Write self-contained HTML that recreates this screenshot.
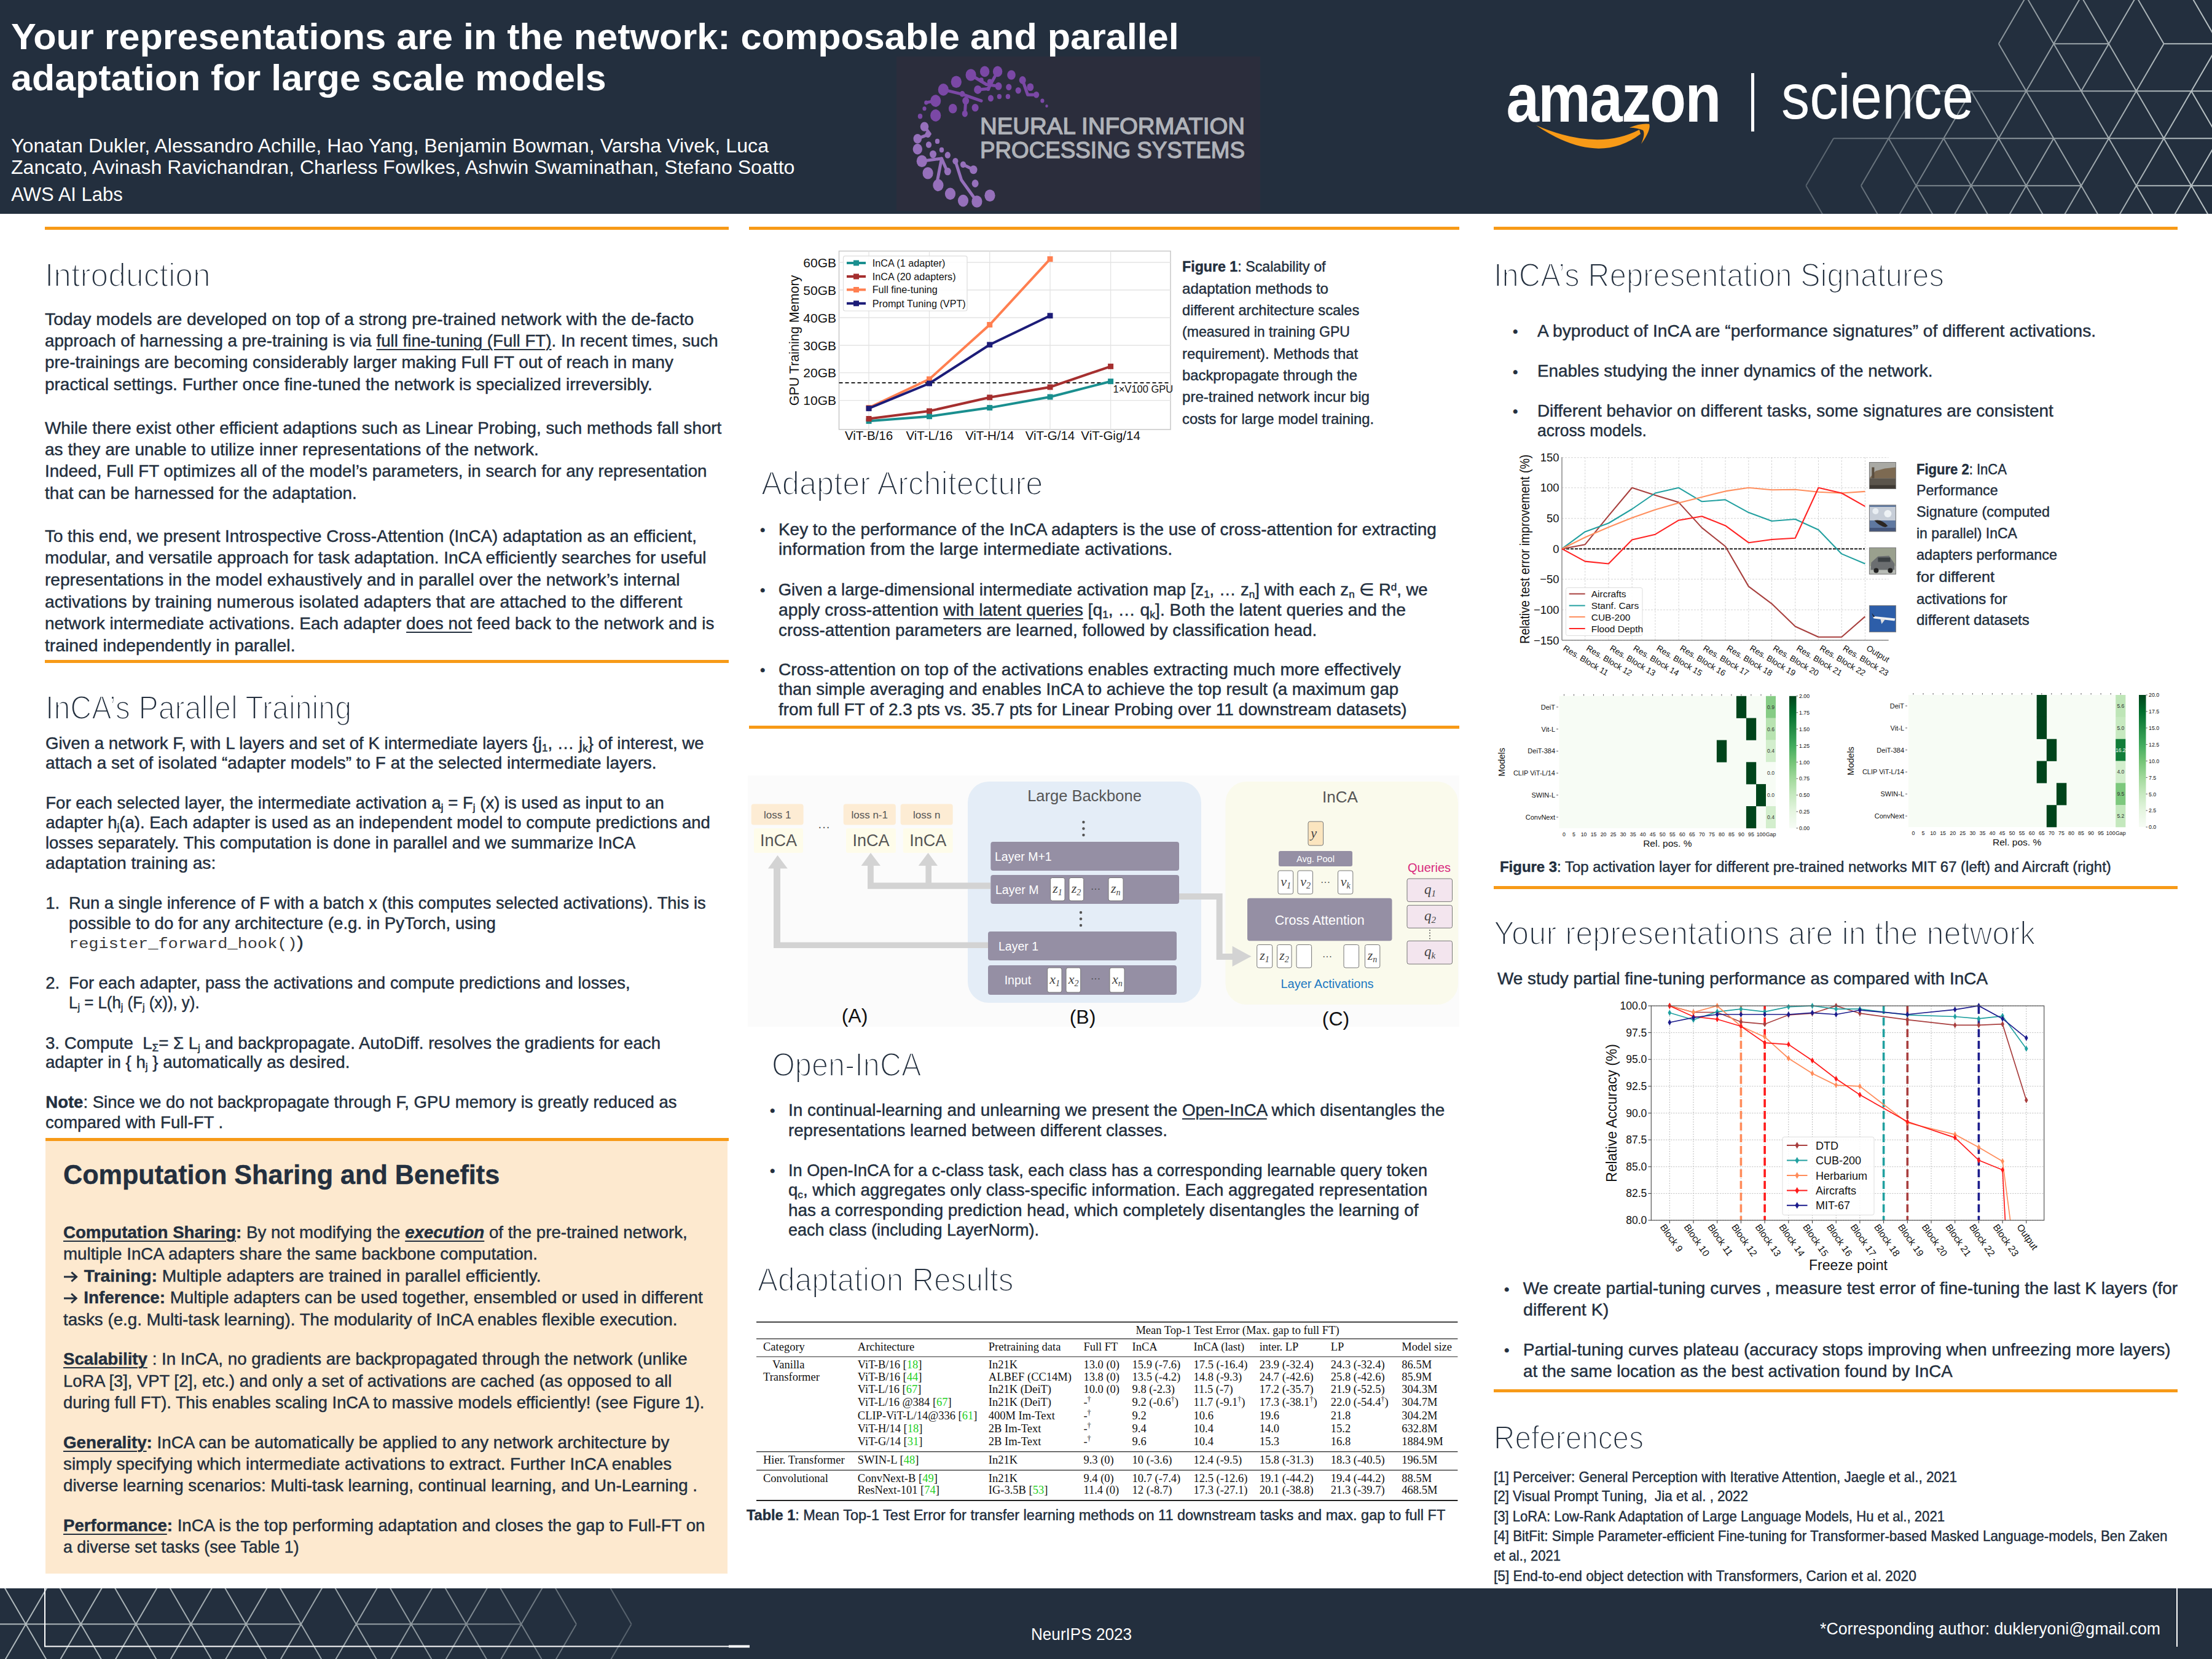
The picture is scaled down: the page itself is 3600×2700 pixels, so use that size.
<!DOCTYPE html><html><head><meta charset="utf-8"><title>InCA poster</title><style>
html,body{margin:0;padding:0;background:#fff;}
body{width:3600px;height:2700px;position:relative;overflow:hidden;font-family:"Liberation Sans",sans-serif;color:#232f3e;}
.t{position:absolute;white-space:nowrap;line-height:1;transform-origin:0 0;-webkit-text-stroke:0.45px #232f3e;}
.t sub{font-size:0.62em;vertical-align:-0.25em;line-height:0;}
.t sup{font-size:0.62em;vertical-align:0.45em;line-height:0;}
.t u{text-decoration-thickness:2px;text-underline-offset:4px;}
.r{position:absolute;}
svg.page{position:absolute;left:0;top:0;}
</style></head><body>
<svg class="page" width="3600" height="2700" viewBox="0 0 3600 2700">
<rect x="0" y="0" width="3600" height="348" fill="#232f3e"/>
<rect x="0" y="2585" width="3600" height="115" fill="#232f3e"/>
<rect x="73" y="369" width="1113" height="5" fill="#f79a17"/>
<rect x="73" y="1074" width="1113" height="5" fill="#f79a17"/>
<rect x="74" y="1852" width="1112" height="5" fill="#f79a17"/>
<rect x="1219" y="369" width="1156" height="5" fill="#f79a17"/>
<rect x="1219" y="1181" width="1156" height="5" fill="#f79a17"/>
<rect x="2431" y="369" width="1113" height="5" fill="#f79a17"/>
<rect x="2431" y="1442" width="1113" height="5" fill="#f79a17"/>
<rect x="2431" y="2261" width="1113" height="5" fill="#f79a17"/>
<rect x="74" y="1857" width="1110" height="704" fill="#fde9cf"/>
<defs><linearGradient id="hgrad" gradientUnits="userSpaceOnUse" x1="2930" y1="0" x2="3600" y2="0"><stop offset="0" stop-color="#c9d2d3" stop-opacity="0.3"/><stop offset="0.45" stop-color="#c9d2d3" stop-opacity="0.6"/><stop offset="1" stop-color="#c9d2d3" stop-opacity="0.9"/></linearGradient>
<clipPath id="hclip"><rect x="0" y="0" width="3600" height="348"/></clipPath>
<clipPath id="fclip"><rect x="0" y="2585" width="3600" height="115"/></clipPath></defs>
<g clip-path="url(#hclip)"><path d="M3342.4 71.2L3432.0 71.2 M3521.6 71.2L3880.0 71.2 M3118.4 148.2L3745.6 148.2 M2984.0 225.3L3700.8 225.3 M3118.4 302.3L3387.2 302.3 M3476.8 302.3L3745.6 302.3 M3297.6 -5.8L3252.8 71.2 M3297.6 -5.8L3342.4 71.2 M3387.2 -5.8L3342.4 71.2 M3387.2 -5.8L3432.0 71.2 M3476.8 -5.8L3432.0 71.2 M3476.8 -5.8L3521.6 71.2 M3566.4 -5.8L3611.2 71.2 M3656.0 -5.8L3611.2 71.2 M3656.0 -5.8L3700.8 71.2 M3252.8 71.2L3297.6 148.2 M3342.4 71.2L3297.6 148.2 M3342.4 71.2L3387.2 148.2 M3432.0 71.2L3387.2 148.2 M3432.0 71.2L3476.8 148.2 M3521.6 71.2L3476.8 148.2 M3611.2 71.2L3566.4 148.2 M3611.2 71.2L3656.0 148.2 M3118.4 148.2L3073.6 225.3 M3208.0 148.2L3163.2 225.3 M3208.0 148.2L3252.8 225.3 M3297.6 148.2L3252.8 225.3 M3297.6 148.2L3342.4 225.3 M3387.2 148.2L3432.0 225.3 M3476.8 148.2L3432.0 225.3 M3476.8 148.2L3521.6 225.3 M3566.4 148.2L3521.6 225.3 M3566.4 148.2L3611.2 225.3 M3656.0 148.2L3611.2 225.3 M3656.0 148.2L3700.8 225.3 M2984.0 225.3L2939.2 302.3 M3073.6 225.3L3028.8 302.3 M3073.6 225.3L3118.4 302.3 M3163.2 225.3L3118.4 302.3 M3163.2 225.3L3208.0 302.3 M3252.8 225.3L3208.0 302.3 M3252.8 225.3L3297.6 302.3 M3342.4 225.3L3297.6 302.3 M3342.4 225.3L3387.2 302.3 M3432.0 225.3L3387.2 302.3 M3432.0 225.3L3476.8 302.3 M3521.6 225.3L3476.8 302.3 M3521.6 225.3L3566.4 302.3 M3611.2 225.3L3566.4 302.3 M3611.2 225.3L3656.0 302.3 M2939.2 302.3L2984.0 379.4 M3028.8 302.3L3073.6 379.4 M3118.4 302.3L3073.6 379.4 M3118.4 302.3L3163.2 379.4 M3208.0 302.3L3163.2 379.4 M3208.0 302.3L3252.8 379.4 M3297.6 302.3L3252.8 379.4 M3297.6 302.3L3342.4 379.4 M3387.2 302.3L3342.4 379.4 M3387.2 302.3L3432.0 379.4 M3476.8 302.3L3432.0 379.4 M3476.8 302.3L3521.6 379.4 M3566.4 302.3L3521.6 379.4 M3566.4 302.3L3611.2 379.4 M3656.0 302.3L3611.2 379.4 M3656.0 302.3L3700.8 379.4" stroke="url(#hgrad)" stroke-width="2" fill="none"/></g>
<defs><linearGradient id="fgrad" gradientUnits="userSpaceOnUse" x1="0" y1="0" x2="1030" y2="0"><stop offset="0" stop-color="#c9d2d3" stop-opacity="0.85"/><stop offset="0.6" stop-color="#c9d2d3" stop-opacity="0.7"/><stop offset="1" stop-color="#c9d2d3" stop-opacity="0.3"/></linearGradient></defs>
<g clip-path="url(#fclip)"><path d="M-47.6 2643.3L490.0 2643.3 M579.6 2643.3L848.4 2643.3 M-92.4 2566.2L-47.6 2643.3 M-47.6 2643.3L-92.4 2720.4 M-2.8 2566.2L-47.6 2643.3 M-47.6 2643.3L-2.8 2720.4 M-2.8 2566.2L42.0 2643.3 M42.0 2643.3L-2.8 2720.4 M86.8 2566.2L42.0 2643.3 M42.0 2643.3L86.8 2720.4 M86.8 2566.2L131.6 2643.3 M131.6 2643.3L86.8 2720.4 M176.4 2566.2L131.6 2643.3 M131.6 2643.3L176.4 2720.4 M176.4 2566.2L221.2 2643.3 M221.2 2643.3L176.4 2720.4 M266.0 2566.2L221.2 2643.3 M221.2 2643.3L266.0 2720.4 M266.0 2566.2L310.8 2643.3 M310.8 2643.3L266.0 2720.4 M355.6 2566.2L310.8 2643.3 M310.8 2643.3L355.6 2720.4 M355.6 2566.2L400.4 2643.3 M400.4 2643.3L355.6 2720.4 M445.2 2566.2L400.4 2643.3 M400.4 2643.3L445.2 2720.4 M445.2 2566.2L490.0 2643.3 M490.0 2643.3L445.2 2720.4 M534.8 2566.2L490.0 2643.3 M490.0 2643.3L534.8 2720.4 M534.8 2566.2L579.6 2643.3 M579.6 2643.3L534.8 2720.4 M624.4 2566.2L579.6 2643.3 M579.6 2643.3L624.4 2720.4 M624.4 2566.2L669.2 2643.3 M669.2 2643.3L624.4 2720.4 M714.0 2566.2L669.2 2643.3 M669.2 2643.3L714.0 2720.4 M714.0 2566.2L758.8 2643.3 M758.8 2643.3L714.0 2720.4 M803.6 2566.2L758.8 2643.3 M758.8 2643.3L803.6 2720.4 M803.6 2566.2L848.4 2643.3 M848.4 2643.3L803.6 2720.4 M893.2 2566.2L848.4 2643.3 M848.4 2643.3L893.2 2720.4 M893.2 2566.2L938.0 2643.3 M938.0 2643.3L893.2 2720.4 M982.8 2566.2L1027.6 2643.3 M1027.6 2643.3L982.8 2720.4" stroke="url(#fgrad)" stroke-width="2" fill="none"/></g>
<polyline points="73,2585 73,2679.5 1186,2679.5" fill="none" stroke="#ffffff" stroke-width="2"/>
<rect x="1186" y="2677.5" width="34" height="4" fill="#ffffff"/>
<rect x="3542" y="2585" width="2" height="95" fill="#ffffff"/>
<text x="2451.5" y="198" font-size="112" font-weight="700" fill="#fff" textLength="348" lengthAdjust="spacingAndGlyphs" style="font-family:'Liberation Sans',sans-serif;letter-spacing:-2px">amazon</text>
<path d="M2500 204 Q2599 271.5 2670 218 L2668 211 Q2600 246.5 2500 204 Z" fill="#f79a17"/>
<path d="M2651.7 207.8 Q2670 200 2684.3 201.7 Q2687 212 2671 234.3 Q2678 218 2674 212 Q2665 208 2651.7 207.8 Z" fill="#f79a17"/>
<rect x="2850" y="119" width="5" height="95" fill="#fff"/>
<text x="2899" y="192.6" font-size="104" fill="#fff" textLength="313" lengthAdjust="spacingAndGlyphs" style="font-family:'Liberation Sans',sans-serif;">science</text>
<rect x="1459" y="92" width="592" height="251" fill="#2b2d3c"/>
<text x="1595" y="218" font-size="37" fill="#b0b3b9" stroke="#b0b3b9" stroke-width="1.3" textLength="431" lengthAdjust="spacingAndGlyphs" style="font-family:'Liberation Sans',sans-serif;">NEURAL INFORMATION</text>
<text x="1595" y="257.4" font-size="37" fill="#b0b3b9" stroke="#b0b3b9" stroke-width="1.3" textLength="431" lengthAdjust="spacingAndGlyphs" style="font-family:'Liberation Sans',sans-serif;">PROCESSING SYSTEMS</text>
<polyline points="1535.3,145.9 1566.1,153.4 1597.0,164.1" fill="none" stroke="#7b48a6" stroke-width="5" stroke-linecap="round" stroke-linejoin="round"/>
<polyline points="1580.1,122.0 1605.4,137.5 1625.0,140.3" fill="none" stroke="#7b48a6" stroke-width="5" stroke-linecap="round" stroke-linejoin="round"/>
<polyline points="1623.6,116.4 1614.3,133.3 1608.2,145.0" fill="none" stroke="#7b48a6" stroke-width="5" stroke-linecap="round" stroke-linejoin="round"/>
<polyline points="1664.2,130.4 1672.6,154.3 1686.6,154.3" fill="none" stroke="#7b48a6" stroke-width="5" stroke-linecap="round" stroke-linejoin="round"/>
<polyline points="1571.7,164.1 1570.3,185.1" fill="none" stroke="#7b48a6" stroke-width="5" stroke-linecap="round" stroke-linejoin="round"/>
<polyline points="1504.5,206.1 1513.4,217.9 1493.3,225.7" fill="none" stroke="#9670bb" stroke-width="5" stroke-linecap="round" stroke-linejoin="round"/>
<polyline points="1500.3,262.2 1532.5,258.0 1542.3,280.4" fill="none" stroke="#9670bb" stroke-width="5" stroke-linecap="round" stroke-linejoin="round"/>
<polyline points="1532.5,258.0 1524.1,301.4" fill="none" stroke="#9670bb" stroke-width="5" stroke-linecap="round" stroke-linejoin="round"/>
<polyline points="1554.9,262.2 1564.7,293.0 1589.9,328.0" fill="none" stroke="#9670bb" stroke-width="5" stroke-linecap="round" stroke-linejoin="round"/>
<polyline points="1567.5,267.8 1584.3,276.2" fill="none" stroke="#9670bb" stroke-width="5" stroke-linecap="round" stroke-linejoin="round"/>
<polyline points="1522.7,164.1 1507.3,166.9" fill="none" stroke="#7b48a6" stroke-width="5" stroke-linecap="round" stroke-linejoin="round"/>
<polyline points="1591.3,145.9 1608.2,144.5" fill="none" stroke="#7b48a6" stroke-width="5" stroke-linecap="round" stroke-linejoin="round"/>
<ellipse cx="1602.6" cy="116.4" rx="7.7" ry="8.8" fill="#7b48a6"/>
<ellipse cx="1623.6" cy="116.4" rx="7.7" ry="8.8" fill="#7b48a6"/>
<ellipse cx="1646.0" cy="122.0" rx="6.8" ry="7.7" fill="#7b48a6"/>
<ellipse cx="1664.2" cy="130.4" rx="5.5" ry="6.3" fill="#7b48a6"/>
<ellipse cx="1676.8" cy="141.7" rx="5.5" ry="6.3" fill="#7b48a6"/>
<ellipse cx="1686.6" cy="154.3" rx="4.6" ry="5.3" fill="#7b48a6"/>
<ellipse cx="1696.4" cy="164.1" rx="3.1" ry="3.5" fill="#7b48a6"/>
<ellipse cx="1703.5" cy="172.5" rx="2.2" ry="2.5" fill="#7b48a6"/>
<ellipse cx="1580.1" cy="122.0" rx="8.6" ry="9.8" fill="#7b48a6"/>
<ellipse cx="1556.3" cy="133.3" rx="8.6" ry="9.8" fill="#7b48a6"/>
<ellipse cx="1535.3" cy="145.9" rx="8.6" ry="9.8" fill="#7b48a6"/>
<ellipse cx="1522.7" cy="164.1" rx="8.6" ry="9.8" fill="#7b48a6"/>
<ellipse cx="1522.7" cy="187.9" rx="8.6" ry="9.8" fill="#7b48a6"/>
<ellipse cx="1504.5" cy="206.1" rx="6.8" ry="7.7" fill="#9670bb"/>
<ellipse cx="1493.3" cy="225.7" rx="6.8" ry="7.7" fill="#9670bb"/>
<ellipse cx="1493.3" cy="242.6" rx="7.7" ry="8.8" fill="#9670bb"/>
<ellipse cx="1500.3" cy="262.2" rx="8.6" ry="9.8" fill="#9670bb"/>
<ellipse cx="1510.1" cy="281.8" rx="8.6" ry="9.8" fill="#9670bb"/>
<ellipse cx="1526.9" cy="301.4" rx="8.6" ry="9.8" fill="#9670bb"/>
<ellipse cx="1546.5" cy="315.4" rx="8.6" ry="9.8" fill="#9670bb"/>
<ellipse cx="1567.5" cy="326.6" rx="8.6" ry="9.8" fill="#9670bb"/>
<ellipse cx="1589.9" cy="328.0" rx="8.6" ry="9.8" fill="#9670bb"/>
<ellipse cx="1611.0" cy="318.2" rx="8.6" ry="9.8" fill="#9670bb"/>
<ellipse cx="1591.3" cy="145.9" rx="6.2" ry="7.0" fill="#7b48a6"/>
<ellipse cx="1625.0" cy="140.3" rx="5.5" ry="6.3" fill="#7b48a6"/>
<ellipse cx="1641.8" cy="141.7" rx="4.6" ry="5.3" fill="#7b48a6"/>
<ellipse cx="1657.2" cy="147.3" rx="4.6" ry="5.3" fill="#7b48a6"/>
<ellipse cx="1612.4" cy="159.9" rx="4.6" ry="5.3" fill="#7b48a6"/>
<ellipse cx="1626.4" cy="157.1" rx="3.7" ry="4.2" fill="#7b48a6"/>
<ellipse cx="1640.4" cy="157.1" rx="3.7" ry="4.2" fill="#7b48a6"/>
<ellipse cx="1571.7" cy="164.1" rx="5.5" ry="6.3" fill="#7b48a6"/>
<ellipse cx="1587.1" cy="175.3" rx="5.5" ry="6.3" fill="#7b48a6"/>
<ellipse cx="1550.7" cy="176.7" rx="6.8" ry="7.7" fill="#7b48a6"/>
<ellipse cx="1570.3" cy="185.1" rx="4.6" ry="5.3" fill="#7b48a6"/>
<ellipse cx="1510.1" cy="218.7" rx="4.6" ry="5.3" fill="#9670bb"/>
<ellipse cx="1511.5" cy="235.5" rx="4.6" ry="5.3" fill="#9670bb"/>
<ellipse cx="1525.5" cy="229.9" rx="3.7" ry="4.2" fill="#9670bb"/>
<ellipse cx="1518.5" cy="251.0" rx="5.5" ry="6.3" fill="#9670bb"/>
<ellipse cx="1542.3" cy="252.4" rx="4.6" ry="5.3" fill="#9670bb"/>
<ellipse cx="1532.5" cy="244.0" rx="3.7" ry="4.2" fill="#9670bb"/>
<ellipse cx="1542.3" cy="279.0" rx="5.5" ry="6.3" fill="#9670bb"/>
<ellipse cx="1567.5" cy="267.8" rx="4.6" ry="5.3" fill="#9670bb"/>
<ellipse cx="1584.3" cy="276.2" rx="6.2" ry="7.0" fill="#9670bb"/>
<ellipse cx="1587.1" cy="298.6" rx="5.5" ry="6.3" fill="#9670bb"/>
<ellipse cx="1554.9" cy="262.2" rx="4.6" ry="5.3" fill="#9670bb"/>
<ellipse cx="1507.3" cy="166.9" rx="3.1" ry="3.5" fill="#7b48a6"/>
<ellipse cx="1504.5" cy="176.7" rx="3.1" ry="3.5" fill="#7b48a6"/>
<ellipse cx="1497.5" cy="189.3" rx="3.7" ry="4.2" fill="#7b48a6"/>
<ellipse cx="1611.0" cy="133.3" rx="4.3" ry="4.9" fill="#7b48a6"/>
<ellipse cx="1597.0" cy="130.4" rx="3.7" ry="4.2" fill="#7b48a6"/>
<ellipse cx="1566.1" cy="152.9" rx="4.3" ry="4.9" fill="#7b48a6"/>
<ellipse cx="1608.2" cy="144.5" rx="3.1" ry="3.5" fill="#7b48a6"/>
<rect x="1365.5" y="408.6" width="539.5" height="290.4" fill="#fff" stroke="#c8c8c8" stroke-width="1.5"/>
<line x1="1414.0" y1="408.6" x2="1414.0" y2="699" stroke="#e3e3e3" stroke-width="1.3"/>
<line x1="1512.5" y1="408.6" x2="1512.5" y2="699" stroke="#e3e3e3" stroke-width="1.3"/>
<line x1="1610.7" y1="408.6" x2="1610.7" y2="699" stroke="#e3e3e3" stroke-width="1.3"/>
<line x1="1709.0" y1="408.6" x2="1709.0" y2="699" stroke="#e3e3e3" stroke-width="1.3"/>
<line x1="1807.6" y1="408.6" x2="1807.6" y2="699" stroke="#e3e3e3" stroke-width="1.3"/>
<line x1="1365.5" y1="427.0" x2="1905" y2="427.0" stroke="#e3e3e3" stroke-width="1.3"/>
<text x="1361.0" y="434.5" font-size="21.0" fill="#111" text-anchor="end" style="font-family:'Liberation Sans',sans-serif;">60GB</text>
<line x1="1365.5" y1="472.0" x2="1905" y2="472.0" stroke="#e3e3e3" stroke-width="1.3"/>
<text x="1361.0" y="479.5" font-size="21.0" fill="#111" text-anchor="end" style="font-family:'Liberation Sans',sans-serif;">50GB</text>
<line x1="1365.5" y1="517.0" x2="1905" y2="517.0" stroke="#e3e3e3" stroke-width="1.3"/>
<text x="1361.0" y="524.5" font-size="21.0" fill="#111" text-anchor="end" style="font-family:'Liberation Sans',sans-serif;">40GB</text>
<line x1="1365.5" y1="562.0" x2="1905" y2="562.0" stroke="#e3e3e3" stroke-width="1.3"/>
<text x="1361.0" y="569.5" font-size="21.0" fill="#111" text-anchor="end" style="font-family:'Liberation Sans',sans-serif;">30GB</text>
<line x1="1365.5" y1="606.6" x2="1905" y2="606.6" stroke="#e3e3e3" stroke-width="1.3"/>
<text x="1361.0" y="614.1" font-size="21.0" fill="#111" text-anchor="end" style="font-family:'Liberation Sans',sans-serif;">20GB</text>
<line x1="1365.5" y1="651.6" x2="1905" y2="651.6" stroke="#e3e3e3" stroke-width="1.3"/>
<text x="1361.0" y="659.1" font-size="21.0" fill="#111" text-anchor="end" style="font-family:'Liberation Sans',sans-serif;">10GB</text>
<text x="1414.0" y="716.0" font-size="20.5" fill="#111" text-anchor="middle" style="font-family:'Liberation Sans',sans-serif;">ViT-B/16</text>
<text x="1512.5" y="716.0" font-size="20.5" fill="#111" text-anchor="middle" style="font-family:'Liberation Sans',sans-serif;">ViT-L/16</text>
<text x="1610.7" y="716.0" font-size="20.5" fill="#111" text-anchor="middle" style="font-family:'Liberation Sans',sans-serif;">ViT-H/14</text>
<text x="1709.0" y="716.0" font-size="20.5" fill="#111" text-anchor="middle" style="font-family:'Liberation Sans',sans-serif;">ViT-G/14</text>
<text x="1807.6" y="716.0" font-size="20.5" fill="#111" text-anchor="middle" style="font-family:'Liberation Sans',sans-serif;">ViT-Gig/14</text>
<text transform="translate(1300,554) rotate(-90)" x="0" y="0" font-size="21.5" fill="#111" text-anchor="middle" style="font-family:'Liberation Sans',sans-serif;">GPU Training Memory</text>
<line x1="1365.5" y1="623" x2="1905" y2="623" stroke="#222" stroke-width="2" stroke-dasharray="6,4"/>
<text x="1811.5" y="638.6" font-size="16.5" fill="#111" text-anchor="start" style="font-family:'Liberation Sans',sans-serif;">1×V100 GPU</text>
<polyline points="1414.0,685.3 1512.5,677.7 1610.7,663.6 1709.0,646.0 1807.6,620.7" fill="none" stroke="#1a8f8f" stroke-width="4"/>
<rect x="1409.5" y="680.8" width="9" height="9" fill="#1a8f8f"/>
<rect x="1508.0" y="673.2" width="9" height="9" fill="#1a8f8f"/>
<rect x="1606.2" y="659.1" width="9" height="9" fill="#1a8f8f"/>
<rect x="1704.5" y="641.5" width="9" height="9" fill="#1a8f8f"/>
<rect x="1803.1" y="616.2" width="9" height="9" fill="#1a8f8f"/>
<polyline points="1414.0,681.5 1512.5,669.0 1610.7,646.8 1709.0,630.0 1807.6,596.3" fill="none" stroke="#a52f2f" stroke-width="4"/>
<rect x="1409.5" y="677.0" width="9" height="9" fill="#a52f2f"/>
<rect x="1508.0" y="664.5" width="9" height="9" fill="#a52f2f"/>
<rect x="1606.2" y="642.3" width="9" height="9" fill="#a52f2f"/>
<rect x="1704.5" y="625.5" width="9" height="9" fill="#a52f2f"/>
<rect x="1803.1" y="591.8" width="9" height="9" fill="#a52f2f"/>
<polyline points="1414.0,663.6 1512.5,617.0 1610.7,528.5 1709.0,421.6" fill="none" stroke="#ff7f50" stroke-width="4"/>
<rect x="1409.5" y="659.1" width="9" height="9" fill="#ff7f50"/>
<rect x="1508.0" y="612.5" width="9" height="9" fill="#ff7f50"/>
<rect x="1606.2" y="524.0" width="9" height="9" fill="#ff7f50"/>
<rect x="1704.5" y="417.1" width="9" height="9" fill="#ff7f50"/>
<polyline points="1414.0,664.7 1512.5,624.0 1610.7,561.0 1709.0,513.8" fill="none" stroke="#1c1c78" stroke-width="4"/>
<rect x="1409.5" y="660.2" width="9" height="9" fill="#1c1c78"/>
<rect x="1508.0" y="619.5" width="9" height="9" fill="#1c1c78"/>
<rect x="1606.2" y="556.5" width="9" height="9" fill="#1c1c78"/>
<rect x="1704.5" y="509.3" width="9" height="9" fill="#1c1c78"/>
<rect x="1372.5" y="416.7" width="201.5" height="89.3" rx="3" fill="#fff" fill-opacity="0.85" stroke="#ddd" stroke-width="1.2"/>
<line x1="1378" y1="428.0" x2="1409" y2="428.0" stroke="#1a8f8f" stroke-width="4"/>
<rect x="1389" y="423.5" width="9" height="9" fill="#1a8f8f"/>
<text x="1419.7" y="433.8" font-size="16.2" fill="#111" text-anchor="start" style="font-family:'Liberation Sans',sans-serif;">InCA (1 adapter)</text>
<line x1="1378" y1="450.0" x2="1409" y2="450.0" stroke="#a52f2f" stroke-width="4"/>
<rect x="1389" y="445.5" width="9" height="9" fill="#a52f2f"/>
<text x="1419.7" y="455.8" font-size="16.2" fill="#111" text-anchor="start" style="font-family:'Liberation Sans',sans-serif;">InCA (20 adapters)</text>
<line x1="1378" y1="471.5" x2="1409" y2="471.5" stroke="#ff7f50" stroke-width="4"/>
<rect x="1389" y="467.0" width="9" height="9" fill="#ff7f50"/>
<text x="1419.7" y="477.3" font-size="16.2" fill="#111" text-anchor="start" style="font-family:'Liberation Sans',sans-serif;">Full fine-tuning</text>
<line x1="1378" y1="493.8" x2="1409" y2="493.8" stroke="#1c1c78" stroke-width="4"/>
<rect x="1389" y="489.3" width="9" height="9" fill="#1c1c78"/>
<text x="1419.7" y="499.6" font-size="16.2" fill="#111" text-anchor="start" style="font-family:'Liberation Sans',sans-serif;">Prompt Tuning (VPT)</text>
<line x1="2579.7" y1="744" x2="2579.7" y2="1042" stroke="#d5d5d5" stroke-width="1" stroke-dasharray="3,2"/>
<line x1="2617.9" y1="744" x2="2617.9" y2="1042" stroke="#d5d5d5" stroke-width="1" stroke-dasharray="3,2"/>
<line x1="2656.1" y1="744" x2="2656.1" y2="1042" stroke="#d5d5d5" stroke-width="1" stroke-dasharray="3,2"/>
<line x1="2693.9" y1="744" x2="2693.9" y2="1042" stroke="#d5d5d5" stroke-width="1" stroke-dasharray="3,2"/>
<line x1="2732.1" y1="744" x2="2732.1" y2="1042" stroke="#d5d5d5" stroke-width="1" stroke-dasharray="3,2"/>
<line x1="2769.8" y1="744" x2="2769.8" y2="1042" stroke="#d5d5d5" stroke-width="1" stroke-dasharray="3,2"/>
<line x1="2808.0" y1="744" x2="2808.0" y2="1042" stroke="#d5d5d5" stroke-width="1" stroke-dasharray="3,2"/>
<line x1="2845.8" y1="744" x2="2845.8" y2="1042" stroke="#d5d5d5" stroke-width="1" stroke-dasharray="3,2"/>
<line x1="2883.5" y1="744" x2="2883.5" y2="1042" stroke="#d5d5d5" stroke-width="1" stroke-dasharray="3,2"/>
<line x1="2921.7" y1="744" x2="2921.7" y2="1042" stroke="#d5d5d5" stroke-width="1" stroke-dasharray="3,2"/>
<line x1="2959.5" y1="744" x2="2959.5" y2="1042" stroke="#d5d5d5" stroke-width="1" stroke-dasharray="3,2"/>
<line x1="2997.2" y1="744" x2="2997.2" y2="1042" stroke="#d5d5d5" stroke-width="1" stroke-dasharray="3,2"/>
<line x1="3035.4" y1="744" x2="3035.4" y2="1042" stroke="#d5d5d5" stroke-width="1" stroke-dasharray="3,2"/>
<line x1="2542.0" y1="744.7" x2="3073.6" y2="744.7" stroke="#d5d5d5" stroke-width="1" stroke-dasharray="3,2"/>
<text x="2537.6" y="751.2" font-size="18.5" fill="#111" text-anchor="end" style="font-family:'Liberation Sans',sans-serif;">150</text>
<line x1="2542.0" y1="793.8" x2="3073.6" y2="793.8" stroke="#d5d5d5" stroke-width="1" stroke-dasharray="3,2"/>
<text x="2537.6" y="800.3" font-size="18.5" fill="#111" text-anchor="end" style="font-family:'Liberation Sans',sans-serif;">100</text>
<line x1="2542.0" y1="843.7" x2="3073.6" y2="843.7" stroke="#d5d5d5" stroke-width="1" stroke-dasharray="3,2"/>
<text x="2537.6" y="850.2" font-size="18.5" fill="#111" text-anchor="end" style="font-family:'Liberation Sans',sans-serif;">50</text>
<line x1="2542.0" y1="893.2" x2="3073.6" y2="893.2" stroke="#d5d5d5" stroke-width="1" stroke-dasharray="3,2"/>
<text x="2537.6" y="899.7" font-size="18.5" fill="#111" text-anchor="end" style="font-family:'Liberation Sans',sans-serif;">0</text>
<line x1="2542.0" y1="942.6" x2="3073.6" y2="942.6" stroke="#d5d5d5" stroke-width="1" stroke-dasharray="3,2"/>
<text x="2537.6" y="949.1" font-size="18.5" fill="#111" text-anchor="end" style="font-family:'Liberation Sans',sans-serif;">−50</text>
<line x1="2542.0" y1="992.6" x2="3073.6" y2="992.6" stroke="#d5d5d5" stroke-width="1" stroke-dasharray="3,2"/>
<text x="2537.6" y="999.1" font-size="18.5" fill="#111" text-anchor="end" style="font-family:'Liberation Sans',sans-serif;">−100</text>
<line x1="2542.0" y1="1042.0" x2="3073.6" y2="1042.0" stroke="#d5d5d5" stroke-width="1" stroke-dasharray="3,2"/>
<text x="2537.6" y="1048.5" font-size="18.5" fill="#111" text-anchor="end" style="font-family:'Liberation Sans',sans-serif;">−150</text>
<line x1="2542.0" y1="744" x2="2542.0" y2="1042" stroke="#888" stroke-width="1.5"/>
<line x1="2542.0" y1="1042" x2="3073.6" y2="1042" stroke="#888" stroke-width="1.5"/>
<line x1="2542" y1="893.2" x2="3035" y2="893.2" stroke="#444" stroke-width="2.5" stroke-dasharray="5,2"/>
<polyline points="2542.0,893.2 2579.7,886.2 2617.9,839.3 2656.1,793.8 2693.9,805.9 2732.1,817.6 2769.8,858.9 2808.0,889.3 2845.8,954.4 2883.5,982.6 2921.7,1019.5 2959.5,1036.8 2997.2,1036.8 3035.4,1003.4" fill="none" stroke="#a8403e" stroke-width="2.1" stroke-linejoin="round"/>
<polyline points="2542.0,893.2 2579.7,865.4 2617.9,851.5 2656.1,828.5 2693.9,802.5 2732.1,793.8 2769.8,816.3 2808.0,813.3 2845.8,834.1 2883.5,848.0 2921.7,845.0 2959.5,862.3 2997.2,901.4 3035.4,917.5" fill="none" stroke="#22a0a0" stroke-width="2.1" stroke-linejoin="round"/>
<polyline points="2542.0,893.2 2579.7,874.5 2617.9,858.0 2656.1,842.8 2693.9,829.4 2732.1,818.5 2769.8,809.0 2808.0,799.4 2845.8,793.8 2883.5,797.3 2921.7,796.8 2959.5,800.7 2997.2,802.5 3035.4,799.9" fill="none" stroke="#ff8f5e" stroke-width="2.1" stroke-linejoin="round"/>
<polyline points="2542.0,893.2 2579.7,913.6 2617.9,917.5 2656.1,878.4 2693.9,869.7 2732.1,846.7 2769.8,840.2 2808.0,855.4 2845.8,883.2 2883.5,878.0 2921.7,875.8 2959.5,793.8 2997.2,802.5 3035.4,824.2" fill="none" stroke="#ff2424" stroke-width="2.1" stroke-linejoin="round"/>
<text transform="translate(2543.0,1057.5) rotate(31)" font-size="13.6" fill="#111" style="font-family:'Liberation Sans',sans-serif;">Res. Block 11</text>
<text transform="translate(2580.7,1057.5) rotate(31)" font-size="13.6" fill="#111" style="font-family:'Liberation Sans',sans-serif;">Res. Block 12</text>
<text transform="translate(2618.9,1057.5) rotate(31)" font-size="13.6" fill="#111" style="font-family:'Liberation Sans',sans-serif;">Res. Block 13</text>
<text transform="translate(2657.1,1057.5) rotate(31)" font-size="13.6" fill="#111" style="font-family:'Liberation Sans',sans-serif;">Res. Block 14</text>
<text transform="translate(2694.9,1057.5) rotate(31)" font-size="13.6" fill="#111" style="font-family:'Liberation Sans',sans-serif;">Res. Block 15</text>
<text transform="translate(2733.1,1057.5) rotate(31)" font-size="13.6" fill="#111" style="font-family:'Liberation Sans',sans-serif;">Res. Block 16</text>
<text transform="translate(2770.8,1057.5) rotate(31)" font-size="13.6" fill="#111" style="font-family:'Liberation Sans',sans-serif;">Res. Block 17</text>
<text transform="translate(2809.0,1057.5) rotate(31)" font-size="13.6" fill="#111" style="font-family:'Liberation Sans',sans-serif;">Res. Block 18</text>
<text transform="translate(2846.8,1057.5) rotate(31)" font-size="13.6" fill="#111" style="font-family:'Liberation Sans',sans-serif;">Res. Block 19</text>
<text transform="translate(2884.5,1057.5) rotate(31)" font-size="13.6" fill="#111" style="font-family:'Liberation Sans',sans-serif;">Res. Block 20</text>
<text transform="translate(2922.7,1057.5) rotate(31)" font-size="13.6" fill="#111" style="font-family:'Liberation Sans',sans-serif;">Res. Block 21</text>
<text transform="translate(2960.5,1057.5) rotate(31)" font-size="13.6" fill="#111" style="font-family:'Liberation Sans',sans-serif;">Res. Block 22</text>
<text transform="translate(2998.2,1057.5) rotate(31)" font-size="13.6" fill="#111" style="font-family:'Liberation Sans',sans-serif;">Res. Block 23</text>
<text transform="translate(3036.4,1057.5) rotate(31)" font-size="13.6" fill="#111" style="font-family:'Liberation Sans',sans-serif;">Output</text>
<text transform="translate(2489,1047.7) rotate(-90)" font-size="21.5" fill="#111" textLength="308" lengthAdjust="spacingAndGlyphs" style="font-family:'Liberation Sans',sans-serif;">Relative test error improvement (%)</text>
<rect x="2548.5" y="956.5" width="124.5" height="78" rx="3" fill="#fff" fill-opacity="0.85" stroke="#ddd" stroke-width="1"/>
<line x1="2553.7" y1="966.5" x2="2579.7" y2="966.5" stroke="#a8403e" stroke-width="2"/>
<text x="2589.7" y="972.0" font-size="15.5" fill="#111" text-anchor="start" style="font-family:'Liberation Sans',sans-serif;">Aircrafts</text>
<line x1="2553.7" y1="985.6" x2="2579.7" y2="985.6" stroke="#22a0a0" stroke-width="2"/>
<text x="2589.7" y="991.1" font-size="15.5" fill="#111" text-anchor="start" style="font-family:'Liberation Sans',sans-serif;">Stanf. Cars</text>
<line x1="2553.7" y1="1004.0" x2="2579.7" y2="1004.0" stroke="#ff8f5e" stroke-width="2"/>
<text x="2589.7" y="1009.5" font-size="15.5" fill="#111" text-anchor="start" style="font-family:'Liberation Sans',sans-serif;">CUB-200</text>
<line x1="2553.7" y1="1023.0" x2="2579.7" y2="1023.0" stroke="#ff2424" stroke-width="2"/>
<text x="2589.7" y="1028.5" font-size="15.5" fill="#111" text-anchor="start" style="font-family:'Liberation Sans',sans-serif;">Flood Depth</text>
<g><clipPath id="tc752"><rect x="3042.4" y="752.5" width="43" height="43"/></clipPath><g clip-path="url(#tc752)"><rect x="3042.4" y="752.5" width="43" height="43" fill="#a9a9a4"/><path d="M3042.4 778.5 L3052.4 766.5 L3067.4 762.5 L3085.4 760.5 L3085.4 778.5 Z" fill="#7d6a52"/><rect x="3046.4" y="760.5" width="4" height="18" fill="#5a4d3e"/><rect x="3042.4" y="778.5" width="43" height="17" fill="#5b554c"/><rect x="3042.4" y="789.5" width="43" height="6" fill="#3f3a34"/></g><rect x="3042.4" y="752.5" width="43" height="43" fill="none" stroke="#777" stroke-width="1"/></g>
<g><clipPath id="tc822"><rect x="3042.4" y="822.0" width="43" height="43"/></clipPath><g clip-path="url(#tc822)"><rect x="3042.4" y="822.0" width="43" height="43" fill="#5f78a0"/><rect x="3042.4" y="825.0" width="43" height="22" fill="#c7ced8"/><circle cx="3052.4" cy="832.0" r="5" fill="#e9eef3"/><circle cx="3072.4" cy="836.0" r="6" fill="#eef2f5"/><path d="M3050.4 847.0 Q3062.4 844.0 3072.4 856.0 L3068.4 858.0 Q3058.4 856.0 3050.4 847.0 Z" fill="#2b2623"/><rect x="3042.4" y="859.0" width="43" height="6" fill="#44557a"/></g><rect x="3042.4" y="822.0" width="43" height="43" fill="none" stroke="#777" stroke-width="1"/></g>
<g><clipPath id="tc891"><rect x="3042.4" y="891.4" width="43" height="43"/></clipPath><g clip-path="url(#tc891)"><rect x="3042.4" y="891.4" width="43" height="43" fill="#9aa08e"/><rect x="3042.4" y="921.4" width="43" height="14" fill="#b8bcb6"/><path d="M3044.4 927.4 L3045.4 915.4 L3056.4 905.4 L3074.4 904.4 L3083.4 917.4 L3083.4 927.4 Z" fill="#6b6e70"/><rect x="3056.4" y="907.4" width="20" height="7" fill="#3c4144"/><circle cx="3053.4" cy="928.4" r="4" fill="#222"/><circle cx="3076.4" cy="928.4" r="4" fill="#222"/></g><rect x="3042.4" y="891.4" width="43" height="43" fill="none" stroke="#777" stroke-width="1"/></g>
<g><clipPath id="tc985"><rect x="3042.4" y="985.6" width="43" height="43"/></clipPath><g clip-path="url(#tc985)"><rect x="3042.4" y="985.6" width="43" height="43" fill="#2d5ea9"/><path d="M3047.4 1002.6 L3084.4 1006.6 L3083.4 1010.6 L3049.4 1006.6 Z" fill="#f2f2f2"/><path d="M3060.4 1007.6 L3068.4 1007.6 L3062.4 1015.6 Z" fill="#e0e0e0"/><path d="M3046.4 997.6 L3051.4 1003.6 L3048.4 1004.6 Z" fill="#1e2a44"/></g><rect x="3042.4" y="985.6" width="43" height="43" fill="none" stroke="#777" stroke-width="1"/></g>
<rect x="2537.5" y="1132.8" width="352.5" height="215.0" fill="#f7fcf5"/>
<rect x="2825.9" y="1132.8" width="16.3" height="36.1" fill="#00441b"/>
<rect x="2874.0" y="1132.8" width="16.0" height="36.1" fill="#86cc85"/>
<text x="2882.0" y="1153.7" font-size="8.5" fill="#333" text-anchor="middle" style="font-family:'Liberation Sans',sans-serif;">0.9</text>
<text x="2531.0" y="1154.7" font-size="11.0" fill="#111" text-anchor="end" style="font-family:'Liberation Sans',sans-serif;">DeiT</text>
<line x1="2533.0" y1="1150.7" x2="2536.0" y2="1150.7" stroke="#333" stroke-width="0.8"/>
<rect x="2841.9" y="1168.6" width="16.3" height="36.1" fill="#00441b"/>
<rect x="2874.0" y="1168.6" width="16.0" height="36.1" fill="#b8e3b1"/>
<text x="2882.0" y="1189.5" font-size="8.5" fill="#333" text-anchor="middle" style="font-family:'Liberation Sans',sans-serif;">0.6</text>
<text x="2531.0" y="1190.5" font-size="11.0" fill="#111" text-anchor="end" style="font-family:'Liberation Sans',sans-serif;">Vit-L</text>
<line x1="2533.0" y1="1186.5" x2="2536.0" y2="1186.5" stroke="#333" stroke-width="0.8"/>
<rect x="2793.9" y="1204.5" width="16.3" height="36.1" fill="#00441b"/>
<rect x="2874.0" y="1204.5" width="16.0" height="36.1" fill="#d3eecd"/>
<text x="2882.0" y="1225.4" font-size="8.5" fill="#333" text-anchor="middle" style="font-family:'Liberation Sans',sans-serif;">0.4</text>
<text x="2531.0" y="1226.4" font-size="11.0" fill="#111" text-anchor="end" style="font-family:'Liberation Sans',sans-serif;">DeiT-384</text>
<line x1="2533.0" y1="1222.4" x2="2536.0" y2="1222.4" stroke="#333" stroke-width="0.8"/>
<rect x="2841.9" y="1240.3" width="16.3" height="36.1" fill="#00441b"/>
<rect x="2874.0" y="1240.3" width="16.0" height="36.1" fill="#f7fcf5"/>
<text x="2882.0" y="1261.2" font-size="8.5" fill="#333" text-anchor="middle" style="font-family:'Liberation Sans',sans-serif;">0.0</text>
<text x="2531.0" y="1262.2" font-size="11.0" fill="#111" text-anchor="end" style="font-family:'Liberation Sans',sans-serif;">CLIP ViT-L/14</text>
<line x1="2533.0" y1="1258.2" x2="2536.0" y2="1258.2" stroke="#333" stroke-width="0.8"/>
<rect x="2858.0" y="1276.1" width="16.3" height="36.1" fill="#00441b"/>
<rect x="2874.0" y="1276.1" width="16.0" height="36.1" fill="#f7fcf5"/>
<text x="2882.0" y="1297.0" font-size="8.5" fill="#333" text-anchor="middle" style="font-family:'Liberation Sans',sans-serif;">0.0</text>
<text x="2531.0" y="1298.0" font-size="11.0" fill="#111" text-anchor="end" style="font-family:'Liberation Sans',sans-serif;">SWIN-L</text>
<line x1="2533.0" y1="1294.0" x2="2536.0" y2="1294.0" stroke="#333" stroke-width="0.8"/>
<rect x="2841.9" y="1312.0" width="16.3" height="36.1" fill="#00441b"/>
<rect x="2874.0" y="1312.0" width="16.0" height="36.1" fill="#d3eecd"/>
<text x="2882.0" y="1332.9" font-size="8.5" fill="#333" text-anchor="middle" style="font-family:'Liberation Sans',sans-serif;">0.4</text>
<text x="2531.0" y="1333.9" font-size="11.0" fill="#111" text-anchor="end" style="font-family:'Liberation Sans',sans-serif;">ConvNext</text>
<line x1="2533.0" y1="1329.9" x2="2536.0" y2="1329.9" stroke="#333" stroke-width="0.8"/>
<text x="2545.5" y="1360.8" font-size="8.8" fill="#111" text-anchor="middle" style="font-family:'Liberation Sans',sans-serif;">0</text>
<line x1="2545.5" y1="1129.8" x2="2545.5" y2="1132.3" stroke="#333" stroke-width="0.8"/>
<text x="2561.5" y="1360.8" font-size="8.8" fill="#111" text-anchor="middle" style="font-family:'Liberation Sans',sans-serif;">5</text>
<line x1="2561.5" y1="1129.8" x2="2561.5" y2="1132.3" stroke="#333" stroke-width="0.8"/>
<text x="2577.6" y="1360.8" font-size="8.8" fill="#111" text-anchor="middle" style="font-family:'Liberation Sans',sans-serif;">10</text>
<line x1="2577.6" y1="1129.8" x2="2577.6" y2="1132.3" stroke="#333" stroke-width="0.8"/>
<text x="2593.6" y="1360.8" font-size="8.8" fill="#111" text-anchor="middle" style="font-family:'Liberation Sans',sans-serif;">15</text>
<line x1="2593.6" y1="1129.8" x2="2593.6" y2="1132.3" stroke="#333" stroke-width="0.8"/>
<text x="2609.6" y="1360.8" font-size="8.8" fill="#111" text-anchor="middle" style="font-family:'Liberation Sans',sans-serif;">20</text>
<line x1="2609.6" y1="1129.8" x2="2609.6" y2="1132.3" stroke="#333" stroke-width="0.8"/>
<text x="2625.6" y="1360.8" font-size="8.8" fill="#111" text-anchor="middle" style="font-family:'Liberation Sans',sans-serif;">25</text>
<line x1="2625.6" y1="1129.8" x2="2625.6" y2="1132.3" stroke="#333" stroke-width="0.8"/>
<text x="2641.6" y="1360.8" font-size="8.8" fill="#111" text-anchor="middle" style="font-family:'Liberation Sans',sans-serif;">30</text>
<line x1="2641.6" y1="1129.8" x2="2641.6" y2="1132.3" stroke="#333" stroke-width="0.8"/>
<text x="2657.7" y="1360.8" font-size="8.8" fill="#111" text-anchor="middle" style="font-family:'Liberation Sans',sans-serif;">35</text>
<line x1="2657.7" y1="1129.8" x2="2657.7" y2="1132.3" stroke="#333" stroke-width="0.8"/>
<text x="2673.7" y="1360.8" font-size="8.8" fill="#111" text-anchor="middle" style="font-family:'Liberation Sans',sans-serif;">40</text>
<line x1="2673.7" y1="1129.8" x2="2673.7" y2="1132.3" stroke="#333" stroke-width="0.8"/>
<text x="2689.7" y="1360.8" font-size="8.8" fill="#111" text-anchor="middle" style="font-family:'Liberation Sans',sans-serif;">45</text>
<line x1="2689.7" y1="1129.8" x2="2689.7" y2="1132.3" stroke="#333" stroke-width="0.8"/>
<text x="2705.7" y="1360.8" font-size="8.8" fill="#111" text-anchor="middle" style="font-family:'Liberation Sans',sans-serif;">50</text>
<line x1="2705.7" y1="1129.8" x2="2705.7" y2="1132.3" stroke="#333" stroke-width="0.8"/>
<text x="2721.8" y="1360.8" font-size="8.8" fill="#111" text-anchor="middle" style="font-family:'Liberation Sans',sans-serif;">55</text>
<line x1="2721.8" y1="1129.8" x2="2721.8" y2="1132.3" stroke="#333" stroke-width="0.8"/>
<text x="2737.8" y="1360.8" font-size="8.8" fill="#111" text-anchor="middle" style="font-family:'Liberation Sans',sans-serif;">60</text>
<line x1="2737.8" y1="1129.8" x2="2737.8" y2="1132.3" stroke="#333" stroke-width="0.8"/>
<text x="2753.8" y="1360.8" font-size="8.8" fill="#111" text-anchor="middle" style="font-family:'Liberation Sans',sans-serif;">65</text>
<line x1="2753.8" y1="1129.8" x2="2753.8" y2="1132.3" stroke="#333" stroke-width="0.8"/>
<text x="2769.8" y="1360.8" font-size="8.8" fill="#111" text-anchor="middle" style="font-family:'Liberation Sans',sans-serif;">70</text>
<line x1="2769.8" y1="1129.8" x2="2769.8" y2="1132.3" stroke="#333" stroke-width="0.8"/>
<text x="2785.9" y="1360.8" font-size="8.8" fill="#111" text-anchor="middle" style="font-family:'Liberation Sans',sans-serif;">75</text>
<line x1="2785.9" y1="1129.8" x2="2785.9" y2="1132.3" stroke="#333" stroke-width="0.8"/>
<text x="2801.9" y="1360.8" font-size="8.8" fill="#111" text-anchor="middle" style="font-family:'Liberation Sans',sans-serif;">80</text>
<line x1="2801.9" y1="1129.8" x2="2801.9" y2="1132.3" stroke="#333" stroke-width="0.8"/>
<text x="2817.9" y="1360.8" font-size="8.8" fill="#111" text-anchor="middle" style="font-family:'Liberation Sans',sans-serif;">85</text>
<line x1="2817.9" y1="1129.8" x2="2817.9" y2="1132.3" stroke="#333" stroke-width="0.8"/>
<text x="2833.9" y="1360.8" font-size="8.8" fill="#111" text-anchor="middle" style="font-family:'Liberation Sans',sans-serif;">90</text>
<line x1="2833.9" y1="1129.8" x2="2833.9" y2="1132.3" stroke="#333" stroke-width="0.8"/>
<text x="2849.9" y="1360.8" font-size="8.8" fill="#111" text-anchor="middle" style="font-family:'Liberation Sans',sans-serif;">95</text>
<line x1="2849.9" y1="1129.8" x2="2849.9" y2="1132.3" stroke="#333" stroke-width="0.8"/>
<text x="2866.0" y="1360.8" font-size="8.8" fill="#111" text-anchor="middle" style="font-family:'Liberation Sans',sans-serif;">100</text>
<line x1="2866.0" y1="1129.8" x2="2866.0" y2="1132.3" stroke="#333" stroke-width="0.8"/>
<text x="2882.0" y="1360.8" font-size="8.8" fill="#111" text-anchor="middle" style="font-family:'Liberation Sans',sans-serif;">Gap</text>
<line x1="2882.0" y1="1129.8" x2="2882.0" y2="1132.3" stroke="#333" stroke-width="0.8"/>
<text x="2713.8" y="1377.8" font-size="15.5" fill="#111" text-anchor="middle" style="font-family:'Liberation Sans',sans-serif;">Rel. pos. %</text>
<text transform="translate(2449.0,1240.3) rotate(-90)" font-size="14.5" fill="#111" text-anchor="middle" style="font-family:'Liberation Sans',sans-serif;">Models</text>
<defs><linearGradient id="cb2537" x1="0" y1="0" x2="0" y2="1"><stop offset="0.000" stop-color="#00441b"/><stop offset="0.125" stop-color="#006d2c"/><stop offset="0.250" stop-color="#238b45"/><stop offset="0.375" stop-color="#41ab5d"/><stop offset="0.500" stop-color="#74c476"/><stop offset="0.625" stop-color="#a1d99b"/><stop offset="0.750" stop-color="#c7e9c0"/><stop offset="0.875" stop-color="#e5f5e0"/><stop offset="1.000" stop-color="#f7fcf5"/></linearGradient></defs>
<rect x="2912.0" y="1132.8" width="11.5" height="215.0" fill="url(#cb2537)"/>
<line x1="2923.5" y1="1132.8" x2="2926.0" y2="1132.8" stroke="#333" stroke-width="0.8"/>
<text x="2928.0" y="1136.0" font-size="8.8" fill="#111" text-anchor="start" style="font-family:'Liberation Sans',sans-serif;">2.00</text>
<line x1="2923.5" y1="1159.7" x2="2926.0" y2="1159.7" stroke="#333" stroke-width="0.8"/>
<text x="2928.0" y="1162.9" font-size="8.8" fill="#111" text-anchor="start" style="font-family:'Liberation Sans',sans-serif;">1.75</text>
<line x1="2923.5" y1="1186.5" x2="2926.0" y2="1186.5" stroke="#333" stroke-width="0.8"/>
<text x="2928.0" y="1189.8" font-size="8.8" fill="#111" text-anchor="start" style="font-family:'Liberation Sans',sans-serif;">1.50</text>
<line x1="2923.5" y1="1213.4" x2="2926.0" y2="1213.4" stroke="#333" stroke-width="0.8"/>
<text x="2928.0" y="1216.6" font-size="8.8" fill="#111" text-anchor="start" style="font-family:'Liberation Sans',sans-serif;">1.25</text>
<line x1="2923.5" y1="1240.3" x2="2926.0" y2="1240.3" stroke="#333" stroke-width="0.8"/>
<text x="2928.0" y="1243.5" font-size="8.8" fill="#111" text-anchor="start" style="font-family:'Liberation Sans',sans-serif;">1.00</text>
<line x1="2923.5" y1="1267.2" x2="2926.0" y2="1267.2" stroke="#333" stroke-width="0.8"/>
<text x="2928.0" y="1270.4" font-size="8.8" fill="#111" text-anchor="start" style="font-family:'Liberation Sans',sans-serif;">0.75</text>
<line x1="2923.5" y1="1294.0" x2="2926.0" y2="1294.0" stroke="#333" stroke-width="0.8"/>
<text x="2928.0" y="1297.2" font-size="8.8" fill="#111" text-anchor="start" style="font-family:'Liberation Sans',sans-serif;">0.50</text>
<line x1="2923.5" y1="1320.9" x2="2926.0" y2="1320.9" stroke="#333" stroke-width="0.8"/>
<text x="2928.0" y="1324.1" font-size="8.8" fill="#111" text-anchor="start" style="font-family:'Liberation Sans',sans-serif;">0.25</text>
<line x1="2923.5" y1="1347.8" x2="2926.0" y2="1347.8" stroke="#333" stroke-width="0.8"/>
<text x="2928.0" y="1351.0" font-size="8.8" fill="#111" text-anchor="start" style="font-family:'Liberation Sans',sans-serif;">0.00</text>
<rect x="3105.9" y="1131.0" width="353.4" height="215.0" fill="#f7fcf5"/>
<rect x="3314.7" y="1131.0" width="16.4" height="36.1" fill="#00441b"/>
<rect x="3443.2" y="1131.0" width="16.1" height="36.1" fill="#bee5b7"/>
<text x="3451.3" y="1151.9" font-size="8.5" fill="#333" text-anchor="middle" style="font-family:'Liberation Sans',sans-serif;">5.6</text>
<text x="3099.0" y="1152.9" font-size="11.0" fill="#111" text-anchor="end" style="font-family:'Liberation Sans',sans-serif;">DeiT</text>
<line x1="3101.0" y1="1148.9" x2="3104.0" y2="1148.9" stroke="#333" stroke-width="0.8"/>
<rect x="3314.7" y="1166.8" width="16.4" height="36.1" fill="#00441b"/>
<rect x="3443.2" y="1166.8" width="16.1" height="36.1" fill="#c7e9c0"/>
<text x="3451.3" y="1187.8" font-size="8.5" fill="#333" text-anchor="middle" style="font-family:'Liberation Sans',sans-serif;">5.0</text>
<text x="3099.0" y="1188.8" font-size="11.0" fill="#111" text-anchor="end" style="font-family:'Liberation Sans',sans-serif;">Vit-L</text>
<line x1="3101.0" y1="1184.8" x2="3104.0" y2="1184.8" stroke="#333" stroke-width="0.8"/>
<rect x="3330.8" y="1202.7" width="16.4" height="36.1" fill="#00441b"/>
<rect x="3443.2" y="1202.7" width="16.1" height="36.1" fill="#127d39"/>
<text x="3451.3" y="1223.6" font-size="8.5" fill="#fff" text-anchor="middle" style="font-family:'Liberation Sans',sans-serif;">16.2</text>
<text x="3099.0" y="1224.6" font-size="11.0" fill="#111" text-anchor="end" style="font-family:'Liberation Sans',sans-serif;">DeiT-384</text>
<line x1="3101.0" y1="1220.6" x2="3104.0" y2="1220.6" stroke="#333" stroke-width="0.8"/>
<rect x="3314.7" y="1238.5" width="16.4" height="36.1" fill="#00441b"/>
<rect x="3443.2" y="1238.5" width="16.1" height="36.1" fill="#d3eecd"/>
<text x="3451.3" y="1259.4" font-size="8.5" fill="#333" text-anchor="middle" style="font-family:'Liberation Sans',sans-serif;">4.0</text>
<text x="3099.0" y="1260.4" font-size="11.0" fill="#111" text-anchor="end" style="font-family:'Liberation Sans',sans-serif;">CLIP ViT-L/14</text>
<line x1="3101.0" y1="1256.4" x2="3104.0" y2="1256.4" stroke="#333" stroke-width="0.8"/>
<rect x="3346.9" y="1274.3" width="16.4" height="36.1" fill="#00441b"/>
<rect x="3443.2" y="1274.3" width="16.1" height="36.1" fill="#7dc87d"/>
<text x="3451.3" y="1295.2" font-size="8.5" fill="#333" text-anchor="middle" style="font-family:'Liberation Sans',sans-serif;">9.5</text>
<text x="3099.0" y="1296.2" font-size="11.0" fill="#111" text-anchor="end" style="font-family:'Liberation Sans',sans-serif;">SWIN-L</text>
<line x1="3101.0" y1="1292.2" x2="3104.0" y2="1292.2" stroke="#333" stroke-width="0.8"/>
<rect x="3330.8" y="1310.2" width="16.4" height="36.1" fill="#00441b"/>
<rect x="3443.2" y="1310.2" width="16.1" height="36.1" fill="#c4e8bd"/>
<text x="3451.3" y="1331.1" font-size="8.5" fill="#333" text-anchor="middle" style="font-family:'Liberation Sans',sans-serif;">5.2</text>
<text x="3099.0" y="1332.1" font-size="11.0" fill="#111" text-anchor="end" style="font-family:'Liberation Sans',sans-serif;">ConvNext</text>
<line x1="3101.0" y1="1328.1" x2="3104.0" y2="1328.1" stroke="#333" stroke-width="0.8"/>
<text x="3113.9" y="1359.0" font-size="8.8" fill="#111" text-anchor="middle" style="font-family:'Liberation Sans',sans-serif;">0</text>
<line x1="3113.9" y1="1128.0" x2="3113.9" y2="1130.5" stroke="#333" stroke-width="0.8"/>
<text x="3130.0" y="1359.0" font-size="8.8" fill="#111" text-anchor="middle" style="font-family:'Liberation Sans',sans-serif;">5</text>
<line x1="3130.0" y1="1128.0" x2="3130.0" y2="1130.5" stroke="#333" stroke-width="0.8"/>
<text x="3146.1" y="1359.0" font-size="8.8" fill="#111" text-anchor="middle" style="font-family:'Liberation Sans',sans-serif;">10</text>
<line x1="3146.1" y1="1128.0" x2="3146.1" y2="1130.5" stroke="#333" stroke-width="0.8"/>
<text x="3162.1" y="1359.0" font-size="8.8" fill="#111" text-anchor="middle" style="font-family:'Liberation Sans',sans-serif;">15</text>
<line x1="3162.1" y1="1128.0" x2="3162.1" y2="1130.5" stroke="#333" stroke-width="0.8"/>
<text x="3178.2" y="1359.0" font-size="8.8" fill="#111" text-anchor="middle" style="font-family:'Liberation Sans',sans-serif;">20</text>
<line x1="3178.2" y1="1128.0" x2="3178.2" y2="1130.5" stroke="#333" stroke-width="0.8"/>
<text x="3194.2" y="1359.0" font-size="8.8" fill="#111" text-anchor="middle" style="font-family:'Liberation Sans',sans-serif;">25</text>
<line x1="3194.2" y1="1128.0" x2="3194.2" y2="1130.5" stroke="#333" stroke-width="0.8"/>
<text x="3210.3" y="1359.0" font-size="8.8" fill="#111" text-anchor="middle" style="font-family:'Liberation Sans',sans-serif;">30</text>
<line x1="3210.3" y1="1128.0" x2="3210.3" y2="1130.5" stroke="#333" stroke-width="0.8"/>
<text x="3226.4" y="1359.0" font-size="8.8" fill="#111" text-anchor="middle" style="font-family:'Liberation Sans',sans-serif;">35</text>
<line x1="3226.4" y1="1128.0" x2="3226.4" y2="1130.5" stroke="#333" stroke-width="0.8"/>
<text x="3242.4" y="1359.0" font-size="8.8" fill="#111" text-anchor="middle" style="font-family:'Liberation Sans',sans-serif;">40</text>
<line x1="3242.4" y1="1128.0" x2="3242.4" y2="1130.5" stroke="#333" stroke-width="0.8"/>
<text x="3258.5" y="1359.0" font-size="8.8" fill="#111" text-anchor="middle" style="font-family:'Liberation Sans',sans-serif;">45</text>
<line x1="3258.5" y1="1128.0" x2="3258.5" y2="1130.5" stroke="#333" stroke-width="0.8"/>
<text x="3274.6" y="1359.0" font-size="8.8" fill="#111" text-anchor="middle" style="font-family:'Liberation Sans',sans-serif;">50</text>
<line x1="3274.6" y1="1128.0" x2="3274.6" y2="1130.5" stroke="#333" stroke-width="0.8"/>
<text x="3290.6" y="1359.0" font-size="8.8" fill="#111" text-anchor="middle" style="font-family:'Liberation Sans',sans-serif;">55</text>
<line x1="3290.6" y1="1128.0" x2="3290.6" y2="1130.5" stroke="#333" stroke-width="0.8"/>
<text x="3306.7" y="1359.0" font-size="8.8" fill="#111" text-anchor="middle" style="font-family:'Liberation Sans',sans-serif;">60</text>
<line x1="3306.7" y1="1128.0" x2="3306.7" y2="1130.5" stroke="#333" stroke-width="0.8"/>
<text x="3322.8" y="1359.0" font-size="8.8" fill="#111" text-anchor="middle" style="font-family:'Liberation Sans',sans-serif;">65</text>
<line x1="3322.8" y1="1128.0" x2="3322.8" y2="1130.5" stroke="#333" stroke-width="0.8"/>
<text x="3338.8" y="1359.0" font-size="8.8" fill="#111" text-anchor="middle" style="font-family:'Liberation Sans',sans-serif;">70</text>
<line x1="3338.8" y1="1128.0" x2="3338.8" y2="1130.5" stroke="#333" stroke-width="0.8"/>
<text x="3354.9" y="1359.0" font-size="8.8" fill="#111" text-anchor="middle" style="font-family:'Liberation Sans',sans-serif;">75</text>
<line x1="3354.9" y1="1128.0" x2="3354.9" y2="1130.5" stroke="#333" stroke-width="0.8"/>
<text x="3371.0" y="1359.0" font-size="8.8" fill="#111" text-anchor="middle" style="font-family:'Liberation Sans',sans-serif;">80</text>
<line x1="3371.0" y1="1128.0" x2="3371.0" y2="1130.5" stroke="#333" stroke-width="0.8"/>
<text x="3387.0" y="1359.0" font-size="8.8" fill="#111" text-anchor="middle" style="font-family:'Liberation Sans',sans-serif;">85</text>
<line x1="3387.0" y1="1128.0" x2="3387.0" y2="1130.5" stroke="#333" stroke-width="0.8"/>
<text x="3403.1" y="1359.0" font-size="8.8" fill="#111" text-anchor="middle" style="font-family:'Liberation Sans',sans-serif;">90</text>
<line x1="3403.1" y1="1128.0" x2="3403.1" y2="1130.5" stroke="#333" stroke-width="0.8"/>
<text x="3419.1" y="1359.0" font-size="8.8" fill="#111" text-anchor="middle" style="font-family:'Liberation Sans',sans-serif;">95</text>
<line x1="3419.1" y1="1128.0" x2="3419.1" y2="1130.5" stroke="#333" stroke-width="0.8"/>
<text x="3435.2" y="1359.0" font-size="8.8" fill="#111" text-anchor="middle" style="font-family:'Liberation Sans',sans-serif;">100</text>
<line x1="3435.2" y1="1128.0" x2="3435.2" y2="1130.5" stroke="#333" stroke-width="0.8"/>
<text x="3451.3" y="1359.0" font-size="8.8" fill="#111" text-anchor="middle" style="font-family:'Liberation Sans',sans-serif;">Gap</text>
<line x1="3451.3" y1="1128.0" x2="3451.3" y2="1130.5" stroke="#333" stroke-width="0.8"/>
<text x="3282.6" y="1376.0" font-size="15.5" fill="#111" text-anchor="middle" style="font-family:'Liberation Sans',sans-serif;">Rel. pos. %</text>
<text transform="translate(3017.0,1238.5) rotate(-90)" font-size="14.5" fill="#111" text-anchor="middle" style="font-family:'Liberation Sans',sans-serif;">Models</text>
<defs><linearGradient id="cb3105" x1="0" y1="0" x2="0" y2="1"><stop offset="0.000" stop-color="#00441b"/><stop offset="0.125" stop-color="#006d2c"/><stop offset="0.250" stop-color="#238b45"/><stop offset="0.375" stop-color="#41ab5d"/><stop offset="0.500" stop-color="#74c476"/><stop offset="0.625" stop-color="#a1d99b"/><stop offset="0.750" stop-color="#c7e9c0"/><stop offset="0.875" stop-color="#e5f5e0"/><stop offset="1.000" stop-color="#f7fcf5"/></linearGradient></defs>
<rect x="3481.0" y="1131.0" width="11.5" height="215.0" fill="url(#cb3105)"/>
<line x1="3492.5" y1="1131.0" x2="3495.0" y2="1131.0" stroke="#333" stroke-width="0.8"/>
<text x="3497.0" y="1134.2" font-size="8.8" fill="#111" text-anchor="start" style="font-family:'Liberation Sans',sans-serif;">20.0</text>
<line x1="3492.5" y1="1157.9" x2="3495.0" y2="1157.9" stroke="#333" stroke-width="0.8"/>
<text x="3497.0" y="1161.1" font-size="8.8" fill="#111" text-anchor="start" style="font-family:'Liberation Sans',sans-serif;">17.5</text>
<line x1="3492.5" y1="1184.8" x2="3495.0" y2="1184.8" stroke="#333" stroke-width="0.8"/>
<text x="3497.0" y="1188.0" font-size="8.8" fill="#111" text-anchor="start" style="font-family:'Liberation Sans',sans-serif;">15.0</text>
<line x1="3492.5" y1="1211.6" x2="3495.0" y2="1211.6" stroke="#333" stroke-width="0.8"/>
<text x="3497.0" y="1214.8" font-size="8.8" fill="#111" text-anchor="start" style="font-family:'Liberation Sans',sans-serif;">12.5</text>
<line x1="3492.5" y1="1238.5" x2="3495.0" y2="1238.5" stroke="#333" stroke-width="0.8"/>
<text x="3497.0" y="1241.7" font-size="8.8" fill="#111" text-anchor="start" style="font-family:'Liberation Sans',sans-serif;">10.0</text>
<line x1="3492.5" y1="1265.4" x2="3495.0" y2="1265.4" stroke="#333" stroke-width="0.8"/>
<text x="3497.0" y="1268.6" font-size="8.8" fill="#111" text-anchor="start" style="font-family:'Liberation Sans',sans-serif;">7.5</text>
<line x1="3492.5" y1="1292.2" x2="3495.0" y2="1292.2" stroke="#333" stroke-width="0.8"/>
<text x="3497.0" y="1295.5" font-size="8.8" fill="#111" text-anchor="start" style="font-family:'Liberation Sans',sans-serif;">5.0</text>
<line x1="3492.5" y1="1319.1" x2="3495.0" y2="1319.1" stroke="#333" stroke-width="0.8"/>
<text x="3497.0" y="1322.3" font-size="8.8" fill="#111" text-anchor="start" style="font-family:'Liberation Sans',sans-serif;">2.5</text>
<line x1="3492.5" y1="1346.0" x2="3495.0" y2="1346.0" stroke="#333" stroke-width="0.8"/>
<text x="3497.0" y="1349.2" font-size="8.8" fill="#111" text-anchor="start" style="font-family:'Liberation Sans',sans-serif;">0.0</text>
<rect x="2687.3" y="1637.0" width="639.4" height="349.0" fill="#fff"/>
<line x1="2717.3" y1="1637.0" x2="2717.3" y2="1986.0" stroke="#bdbdbd" stroke-width="1" stroke-dasharray="2,2"/>
<line x1="2717.3" y1="1986.0" x2="2717.3" y2="1991.0" stroke="#333" stroke-width="1"/>
<line x1="2756.0" y1="1637.0" x2="2756.0" y2="1986.0" stroke="#bdbdbd" stroke-width="1" stroke-dasharray="2,2"/>
<line x1="2756.0" y1="1986.0" x2="2756.0" y2="1991.0" stroke="#333" stroke-width="1"/>
<line x1="2794.7" y1="1637.0" x2="2794.7" y2="1986.0" stroke="#bdbdbd" stroke-width="1" stroke-dasharray="2,2"/>
<line x1="2794.7" y1="1986.0" x2="2794.7" y2="1991.0" stroke="#333" stroke-width="1"/>
<line x1="2833.4" y1="1637.0" x2="2833.4" y2="1986.0" stroke="#bdbdbd" stroke-width="1" stroke-dasharray="2,2"/>
<line x1="2833.4" y1="1986.0" x2="2833.4" y2="1991.0" stroke="#333" stroke-width="1"/>
<line x1="2872.1" y1="1637.0" x2="2872.1" y2="1986.0" stroke="#bdbdbd" stroke-width="1" stroke-dasharray="2,2"/>
<line x1="2872.1" y1="1986.0" x2="2872.1" y2="1991.0" stroke="#333" stroke-width="1"/>
<line x1="2910.8" y1="1637.0" x2="2910.8" y2="1986.0" stroke="#bdbdbd" stroke-width="1" stroke-dasharray="2,2"/>
<line x1="2910.8" y1="1986.0" x2="2910.8" y2="1991.0" stroke="#333" stroke-width="1"/>
<line x1="2949.5" y1="1637.0" x2="2949.5" y2="1986.0" stroke="#bdbdbd" stroke-width="1" stroke-dasharray="2,2"/>
<line x1="2949.5" y1="1986.0" x2="2949.5" y2="1991.0" stroke="#333" stroke-width="1"/>
<line x1="2988.2" y1="1637.0" x2="2988.2" y2="1986.0" stroke="#bdbdbd" stroke-width="1" stroke-dasharray="2,2"/>
<line x1="2988.2" y1="1986.0" x2="2988.2" y2="1991.0" stroke="#333" stroke-width="1"/>
<line x1="3026.9" y1="1637.0" x2="3026.9" y2="1986.0" stroke="#bdbdbd" stroke-width="1" stroke-dasharray="2,2"/>
<line x1="3026.9" y1="1986.0" x2="3026.9" y2="1991.0" stroke="#333" stroke-width="1"/>
<line x1="3065.6" y1="1637.0" x2="3065.6" y2="1986.0" stroke="#bdbdbd" stroke-width="1" stroke-dasharray="2,2"/>
<line x1="3065.6" y1="1986.0" x2="3065.6" y2="1991.0" stroke="#333" stroke-width="1"/>
<line x1="3104.3" y1="1637.0" x2="3104.3" y2="1986.0" stroke="#bdbdbd" stroke-width="1" stroke-dasharray="2,2"/>
<line x1="3104.3" y1="1986.0" x2="3104.3" y2="1991.0" stroke="#333" stroke-width="1"/>
<line x1="3143.0" y1="1637.0" x2="3143.0" y2="1986.0" stroke="#bdbdbd" stroke-width="1" stroke-dasharray="2,2"/>
<line x1="3143.0" y1="1986.0" x2="3143.0" y2="1991.0" stroke="#333" stroke-width="1"/>
<line x1="3181.7" y1="1637.0" x2="3181.7" y2="1986.0" stroke="#bdbdbd" stroke-width="1" stroke-dasharray="2,2"/>
<line x1="3181.7" y1="1986.0" x2="3181.7" y2="1991.0" stroke="#333" stroke-width="1"/>
<line x1="3220.4" y1="1637.0" x2="3220.4" y2="1986.0" stroke="#bdbdbd" stroke-width="1" stroke-dasharray="2,2"/>
<line x1="3220.4" y1="1986.0" x2="3220.4" y2="1991.0" stroke="#333" stroke-width="1"/>
<line x1="3259.1" y1="1637.0" x2="3259.1" y2="1986.0" stroke="#bdbdbd" stroke-width="1" stroke-dasharray="2,2"/>
<line x1="3259.1" y1="1986.0" x2="3259.1" y2="1991.0" stroke="#333" stroke-width="1"/>
<line x1="3297.8" y1="1637.0" x2="3297.8" y2="1986.0" stroke="#bdbdbd" stroke-width="1" stroke-dasharray="2,2"/>
<line x1="3297.8" y1="1986.0" x2="3297.8" y2="1991.0" stroke="#333" stroke-width="1"/>
<line x1="2687.3" y1="1637.0" x2="3326.7" y2="1637.0" stroke="#bdbdbd" stroke-width="1" stroke-dasharray="2,2"/>
<line x1="2682.3" y1="1637.0" x2="2687.3" y2="1637.0" stroke="#333" stroke-width="1"/>
<text x="2680.3" y="1643.0" font-size="17.5" fill="#111" text-anchor="end" style="font-family:'Liberation Sans',sans-serif;">100.0</text>
<line x1="2687.3" y1="1680.6" x2="3326.7" y2="1680.6" stroke="#bdbdbd" stroke-width="1" stroke-dasharray="2,2"/>
<line x1="2682.3" y1="1680.6" x2="2687.3" y2="1680.6" stroke="#333" stroke-width="1"/>
<text x="2680.3" y="1686.6" font-size="17.5" fill="#111" text-anchor="end" style="font-family:'Liberation Sans',sans-serif;">97.5</text>
<line x1="2687.3" y1="1724.2" x2="3326.7" y2="1724.2" stroke="#bdbdbd" stroke-width="1" stroke-dasharray="2,2"/>
<line x1="2682.3" y1="1724.2" x2="2687.3" y2="1724.2" stroke="#333" stroke-width="1"/>
<text x="2680.3" y="1730.2" font-size="17.5" fill="#111" text-anchor="end" style="font-family:'Liberation Sans',sans-serif;">95.0</text>
<line x1="2687.3" y1="1767.9" x2="3326.7" y2="1767.9" stroke="#bdbdbd" stroke-width="1" stroke-dasharray="2,2"/>
<line x1="2682.3" y1="1767.9" x2="2687.3" y2="1767.9" stroke="#333" stroke-width="1"/>
<text x="2680.3" y="1773.9" font-size="17.5" fill="#111" text-anchor="end" style="font-family:'Liberation Sans',sans-serif;">92.5</text>
<line x1="2687.3" y1="1811.5" x2="3326.7" y2="1811.5" stroke="#bdbdbd" stroke-width="1" stroke-dasharray="2,2"/>
<line x1="2682.3" y1="1811.5" x2="2687.3" y2="1811.5" stroke="#333" stroke-width="1"/>
<text x="2680.3" y="1817.5" font-size="17.5" fill="#111" text-anchor="end" style="font-family:'Liberation Sans',sans-serif;">90.0</text>
<line x1="2687.3" y1="1855.1" x2="3326.7" y2="1855.1" stroke="#bdbdbd" stroke-width="1" stroke-dasharray="2,2"/>
<line x1="2682.3" y1="1855.1" x2="2687.3" y2="1855.1" stroke="#333" stroke-width="1"/>
<text x="2680.3" y="1861.1" font-size="17.5" fill="#111" text-anchor="end" style="font-family:'Liberation Sans',sans-serif;">87.5</text>
<line x1="2687.3" y1="1898.8" x2="3326.7" y2="1898.8" stroke="#bdbdbd" stroke-width="1" stroke-dasharray="2,2"/>
<line x1="2682.3" y1="1898.8" x2="2687.3" y2="1898.8" stroke="#333" stroke-width="1"/>
<text x="2680.3" y="1904.8" font-size="17.5" fill="#111" text-anchor="end" style="font-family:'Liberation Sans',sans-serif;">85.0</text>
<line x1="2687.3" y1="1942.4" x2="3326.7" y2="1942.4" stroke="#bdbdbd" stroke-width="1" stroke-dasharray="2,2"/>
<line x1="2682.3" y1="1942.4" x2="2687.3" y2="1942.4" stroke="#333" stroke-width="1"/>
<text x="2680.3" y="1948.4" font-size="17.5" fill="#111" text-anchor="end" style="font-family:'Liberation Sans',sans-serif;">82.5</text>
<line x1="2687.3" y1="1986.0" x2="3326.7" y2="1986.0" stroke="#bdbdbd" stroke-width="1" stroke-dasharray="2,2"/>
<line x1="2682.3" y1="1986.0" x2="2687.3" y2="1986.0" stroke="#333" stroke-width="1"/>
<text x="2680.3" y="1992.0" font-size="17.5" fill="#111" text-anchor="end" style="font-family:'Liberation Sans',sans-serif;">80.0</text>
<line x1="2833.4" y1="1637.0" x2="2833.4" y2="1986.0" stroke="#ff8c5a" stroke-width="3.6" stroke-dasharray="13,6"/>
<line x1="2872.1" y1="1637.0" x2="2872.1" y2="1986.0" stroke="#ff1a1a" stroke-width="3.6" stroke-dasharray="13,6"/>
<line x1="3065.6" y1="1637.0" x2="3065.6" y2="1986.0" stroke="#20a0a0" stroke-width="3.6" stroke-dasharray="13,6"/>
<line x1="3104.3" y1="1637.0" x2="3104.3" y2="1986.0" stroke="#a83e3e" stroke-width="3.6" stroke-dasharray="13,6"/>
<line x1="3220.4" y1="1637.0" x2="3220.4" y2="1986.0" stroke="#1c1c8c" stroke-width="3.6" stroke-dasharray="13,6"/>
<polyline points="2717.3,1637.0 2756.0,1647.5 2794.7,1647.5 2833.4,1663.2 2872.1,1666.7 2910.8,1651.8 2949.5,1649.2 2988.2,1637.0 3026.9,1649.2 3104.3,1659.7 3181.7,1668.4 3220.4,1668.4 3259.1,1666.7 3297.8,1790.6" fill="none" stroke="#a83e3e" stroke-width="1.7"/>
<path d="M2717.3 1632.0L2720.1 1637.0L2717.3 1642.0L2714.5 1637.0Z" fill="#a83e3e"/>
<path d="M2756.0 1642.5L2758.8 1647.5L2756.0 1652.5L2753.2 1647.5Z" fill="#a83e3e"/>
<path d="M2794.7 1642.5L2797.5 1647.5L2794.7 1652.5L2791.9 1647.5Z" fill="#a83e3e"/>
<path d="M2833.4 1658.2L2836.2 1663.2L2833.4 1668.2L2830.6 1663.2Z" fill="#a83e3e"/>
<path d="M2872.1 1661.7L2874.9 1666.7L2872.1 1671.7L2869.3 1666.7Z" fill="#a83e3e"/>
<path d="M2910.8 1646.8L2913.6 1651.8L2910.8 1656.8L2908.0 1651.8Z" fill="#a83e3e"/>
<path d="M2949.5 1644.2L2952.3 1649.2L2949.5 1654.2L2946.7 1649.2Z" fill="#a83e3e"/>
<path d="M2988.2 1632.0L2991.0 1637.0L2988.2 1642.0L2985.4 1637.0Z" fill="#a83e3e"/>
<path d="M3026.9 1644.2L3029.7 1649.2L3026.9 1654.2L3024.1 1649.2Z" fill="#a83e3e"/>
<path d="M3104.3 1654.7L3107.1 1659.7L3104.3 1664.7L3101.5 1659.7Z" fill="#a83e3e"/>
<path d="M3181.7 1663.4L3184.5 1668.4L3181.7 1673.4L3178.9 1668.4Z" fill="#a83e3e"/>
<path d="M3220.4 1663.4L3223.2 1668.4L3220.4 1673.4L3217.6 1668.4Z" fill="#a83e3e"/>
<path d="M3259.1 1661.7L3261.9 1666.7L3259.1 1671.7L3256.3 1666.7Z" fill="#a83e3e"/>
<path d="M3297.8 1785.6L3300.6 1790.6L3297.8 1795.6L3295.0 1790.6Z" fill="#a83e3e"/>
<polyline points="2717.3,1648.3 2756.0,1659.7 2794.7,1646.6 2833.4,1642.2 2872.1,1646.6 2910.8,1638.7 2949.5,1637.0 2988.2,1642.2 3026.9,1642.2 3104.3,1651.8 3181.7,1654.5 3220.4,1657.9 3259.1,1653.6 3297.8,1706.8" fill="none" stroke="#20a0a0" stroke-width="1.7"/>
<path d="M2717.3 1643.3L2720.1 1648.3L2717.3 1653.3L2714.5 1648.3Z" fill="#20a0a0"/>
<path d="M2756.0 1654.7L2758.8 1659.7L2756.0 1664.7L2753.2 1659.7Z" fill="#20a0a0"/>
<path d="M2794.7 1641.6L2797.5 1646.6L2794.7 1651.6L2791.9 1646.6Z" fill="#20a0a0"/>
<path d="M2833.4 1637.2L2836.2 1642.2L2833.4 1647.2L2830.6 1642.2Z" fill="#20a0a0"/>
<path d="M2872.1 1641.6L2874.9 1646.6L2872.1 1651.6L2869.3 1646.6Z" fill="#20a0a0"/>
<path d="M2910.8 1633.7L2913.6 1638.7L2910.8 1643.7L2908.0 1638.7Z" fill="#20a0a0"/>
<path d="M2949.5 1632.0L2952.3 1637.0L2949.5 1642.0L2946.7 1637.0Z" fill="#20a0a0"/>
<path d="M2988.2 1637.2L2991.0 1642.2L2988.2 1647.2L2985.4 1642.2Z" fill="#20a0a0"/>
<path d="M3026.9 1637.2L3029.7 1642.2L3026.9 1647.2L3024.1 1642.2Z" fill="#20a0a0"/>
<path d="M3104.3 1646.8L3107.1 1651.8L3104.3 1656.8L3101.5 1651.8Z" fill="#20a0a0"/>
<path d="M3181.7 1649.5L3184.5 1654.5L3181.7 1659.5L3178.9 1654.5Z" fill="#20a0a0"/>
<path d="M3220.4 1652.9L3223.2 1657.9L3220.4 1662.9L3217.6 1657.9Z" fill="#20a0a0"/>
<path d="M3259.1 1648.6L3261.9 1653.6L3259.1 1658.6L3256.3 1653.6Z" fill="#20a0a0"/>
<path d="M3297.8 1701.8L3300.6 1706.8L3297.8 1711.8L3295.0 1706.8Z" fill="#20a0a0"/>
<polyline points="2717.3,1637.0 2756.0,1647.5 2794.7,1637.0 2833.4,1670.2 2872.1,1687.6 2910.8,1722.5 2949.5,1746.9 2988.2,1766.1 3026.9,1767.9 3104.3,1827.2 3181.7,1846.4 3220.4,1867.3 3259.1,1890.0 3271.7,1986.0" fill="none" stroke="#ff8c5a" stroke-width="1.7"/>
<path d="M2717.3 1632.0L2720.1 1637.0L2717.3 1642.0L2714.5 1637.0Z" fill="#ff8c5a"/>
<path d="M2756.0 1642.5L2758.8 1647.5L2756.0 1652.5L2753.2 1647.5Z" fill="#ff8c5a"/>
<path d="M2794.7 1632.0L2797.5 1637.0L2794.7 1642.0L2791.9 1637.0Z" fill="#ff8c5a"/>
<path d="M2833.4 1665.2L2836.2 1670.2L2833.4 1675.2L2830.6 1670.2Z" fill="#ff8c5a"/>
<path d="M2872.1 1682.6L2874.9 1687.6L2872.1 1692.6L2869.3 1687.6Z" fill="#ff8c5a"/>
<path d="M2910.8 1717.5L2913.6 1722.5L2910.8 1727.5L2908.0 1722.5Z" fill="#ff8c5a"/>
<path d="M2949.5 1741.9L2952.3 1746.9L2949.5 1751.9L2946.7 1746.9Z" fill="#ff8c5a"/>
<path d="M2988.2 1761.1L2991.0 1766.1L2988.2 1771.1L2985.4 1766.1Z" fill="#ff8c5a"/>
<path d="M3026.9 1762.9L3029.7 1767.9L3026.9 1772.9L3024.1 1767.9Z" fill="#ff8c5a"/>
<path d="M3104.3 1822.2L3107.1 1827.2L3104.3 1832.2L3101.5 1827.2Z" fill="#ff8c5a"/>
<path d="M3181.7 1841.4L3184.5 1846.4L3181.7 1851.4L3178.9 1846.4Z" fill="#ff8c5a"/>
<path d="M3220.4 1862.3L3223.2 1867.3L3220.4 1872.3L3217.6 1867.3Z" fill="#ff8c5a"/>
<path d="M3259.1 1885.0L3261.9 1890.0L3259.1 1895.0L3256.3 1890.0Z" fill="#ff8c5a"/>
<polyline points="2717.3,1637.0 2756.0,1654.5 2794.7,1658.8 2833.4,1670.2 2872.1,1697.2 2910.8,1699.8 2949.5,1726.0 2988.2,1755.7 3026.9,1781.8 3104.3,1825.5 3181.7,1851.6 3220.4,1888.3 3259.1,1904.0 3263.4,1986.0" fill="none" stroke="#ff1a1a" stroke-width="1.7"/>
<path d="M2717.3 1632.0L2720.1 1637.0L2717.3 1642.0L2714.5 1637.0Z" fill="#ff1a1a"/>
<path d="M2756.0 1649.5L2758.8 1654.5L2756.0 1659.5L2753.2 1654.5Z" fill="#ff1a1a"/>
<path d="M2794.7 1653.8L2797.5 1658.8L2794.7 1663.8L2791.9 1658.8Z" fill="#ff1a1a"/>
<path d="M2833.4 1665.2L2836.2 1670.2L2833.4 1675.2L2830.6 1670.2Z" fill="#ff1a1a"/>
<path d="M2872.1 1692.2L2874.9 1697.2L2872.1 1702.2L2869.3 1697.2Z" fill="#ff1a1a"/>
<path d="M2910.8 1694.8L2913.6 1699.8L2910.8 1704.8L2908.0 1699.8Z" fill="#ff1a1a"/>
<path d="M2949.5 1721.0L2952.3 1726.0L2949.5 1731.0L2946.7 1726.0Z" fill="#ff1a1a"/>
<path d="M2988.2 1750.7L2991.0 1755.7L2988.2 1760.7L2985.4 1755.7Z" fill="#ff1a1a"/>
<path d="M3026.9 1776.8L3029.7 1781.8L3026.9 1786.8L3024.1 1781.8Z" fill="#ff1a1a"/>
<path d="M3104.3 1820.5L3107.1 1825.5L3104.3 1830.5L3101.5 1825.5Z" fill="#ff1a1a"/>
<path d="M3181.7 1846.6L3184.5 1851.6L3181.7 1856.6L3178.9 1851.6Z" fill="#ff1a1a"/>
<path d="M3220.4 1883.3L3223.2 1888.3L3220.4 1893.3L3217.6 1888.3Z" fill="#ff1a1a"/>
<path d="M3259.1 1899.0L3261.9 1904.0L3259.1 1909.0L3256.3 1904.0Z" fill="#ff1a1a"/>
<polyline points="2717.3,1664.0 2756.0,1656.2 2794.7,1651.0 2833.4,1651.0 2872.1,1651.0 2910.8,1651.0 2949.5,1648.3 2988.2,1651.0 3026.9,1644.0 3104.3,1651.0 3181.7,1643.1 3220.4,1637.0 3259.1,1657.9 3297.8,1689.3" fill="none" stroke="#1c1c8c" stroke-width="1.7"/>
<path d="M2717.3 1659.0L2720.1 1664.0L2717.3 1669.0L2714.5 1664.0Z" fill="#1c1c8c"/>
<path d="M2756.0 1651.2L2758.8 1656.2L2756.0 1661.2L2753.2 1656.2Z" fill="#1c1c8c"/>
<path d="M2794.7 1646.0L2797.5 1651.0L2794.7 1656.0L2791.9 1651.0Z" fill="#1c1c8c"/>
<path d="M2833.4 1646.0L2836.2 1651.0L2833.4 1656.0L2830.6 1651.0Z" fill="#1c1c8c"/>
<path d="M2872.1 1646.0L2874.9 1651.0L2872.1 1656.0L2869.3 1651.0Z" fill="#1c1c8c"/>
<path d="M2910.8 1646.0L2913.6 1651.0L2910.8 1656.0L2908.0 1651.0Z" fill="#1c1c8c"/>
<path d="M2949.5 1643.3L2952.3 1648.3L2949.5 1653.3L2946.7 1648.3Z" fill="#1c1c8c"/>
<path d="M2988.2 1646.0L2991.0 1651.0L2988.2 1656.0L2985.4 1651.0Z" fill="#1c1c8c"/>
<path d="M3026.9 1639.0L3029.7 1644.0L3026.9 1649.0L3024.1 1644.0Z" fill="#1c1c8c"/>
<path d="M3104.3 1646.0L3107.1 1651.0L3104.3 1656.0L3101.5 1651.0Z" fill="#1c1c8c"/>
<path d="M3181.7 1638.1L3184.5 1643.1L3181.7 1648.1L3178.9 1643.1Z" fill="#1c1c8c"/>
<path d="M3220.4 1632.0L3223.2 1637.0L3220.4 1642.0L3217.6 1637.0Z" fill="#1c1c8c"/>
<path d="M3259.1 1652.9L3261.9 1657.9L3259.1 1662.9L3256.3 1657.9Z" fill="#1c1c8c"/>
<path d="M3297.8 1684.3L3300.6 1689.3L3297.8 1694.3L3295.0 1689.3Z" fill="#1c1c8c"/>
<rect x="2687.3" y="1637.0" width="639.4" height="349.0" fill="none" stroke="#555" stroke-width="1.2"/>
<rect x="2901" y="1850.4" width="149" height="127" rx="3" fill="#fff" fill-opacity="0.85" stroke="#ddd" stroke-width="1"/>
<line x1="2908" y1="1864.0" x2="2941.5" y2="1864.0" stroke="#a83e3e" stroke-width="2"/>
<path d="M2924.7 1858.5L2928 1864.0L2924.7 1869.5L2921.4 1864.0Z" fill="#a83e3e"/>
<text x="2955.0" y="1870.5" font-size="18.0" fill="#111" text-anchor="start" style="font-family:'Liberation Sans',sans-serif;">DTD</text>
<line x1="2908" y1="1888.4" x2="2941.5" y2="1888.4" stroke="#20a0a0" stroke-width="2"/>
<path d="M2924.7 1882.9L2928 1888.4L2924.7 1893.9L2921.4 1888.4Z" fill="#20a0a0"/>
<text x="2955.0" y="1894.9" font-size="18.0" fill="#111" text-anchor="start" style="font-family:'Liberation Sans',sans-serif;">CUB-200</text>
<line x1="2908" y1="1913.0" x2="2941.5" y2="1913.0" stroke="#ff8c5a" stroke-width="2"/>
<path d="M2924.7 1907.5L2928 1913.0L2924.7 1918.5L2921.4 1913.0Z" fill="#ff8c5a"/>
<text x="2955.0" y="1919.5" font-size="18.0" fill="#111" text-anchor="start" style="font-family:'Liberation Sans',sans-serif;">Herbarium</text>
<line x1="2908" y1="1937.5" x2="2941.5" y2="1937.5" stroke="#ff1a1a" stroke-width="2"/>
<path d="M2924.7 1932.0L2928 1937.5L2924.7 1943.0L2921.4 1937.5Z" fill="#ff1a1a"/>
<text x="2955.0" y="1944.0" font-size="18.0" fill="#111" text-anchor="start" style="font-family:'Liberation Sans',sans-serif;">Aircrafts</text>
<line x1="2908" y1="1961.8" x2="2941.5" y2="1961.8" stroke="#1c1c8c" stroke-width="2"/>
<path d="M2924.7 1956.3L2928 1961.8L2924.7 1967.3L2921.4 1961.8Z" fill="#1c1c8c"/>
<text x="2955.0" y="1968.3" font-size="18.0" fill="#111" text-anchor="start" style="font-family:'Liberation Sans',sans-serif;">MIT-67</text>
<text transform="translate(2701.3,1997) rotate(55)" font-size="15.6" fill="#111" style="font-family:'Liberation Sans',sans-serif;">Block 9</text>
<text transform="translate(2740.0,1997) rotate(55)" font-size="15.6" fill="#111" style="font-family:'Liberation Sans',sans-serif;">Block 10</text>
<text transform="translate(2778.7,1997) rotate(55)" font-size="15.6" fill="#111" style="font-family:'Liberation Sans',sans-serif;">Block 11</text>
<text transform="translate(2817.4,1997) rotate(55)" font-size="15.6" fill="#111" style="font-family:'Liberation Sans',sans-serif;">Block 12</text>
<text transform="translate(2856.1,1997) rotate(55)" font-size="15.6" fill="#111" style="font-family:'Liberation Sans',sans-serif;">Block 13</text>
<text transform="translate(2894.8,1997) rotate(55)" font-size="15.6" fill="#111" style="font-family:'Liberation Sans',sans-serif;">Block 14</text>
<text transform="translate(2933.5,1997) rotate(55)" font-size="15.6" fill="#111" style="font-family:'Liberation Sans',sans-serif;">Block 15</text>
<text transform="translate(2972.2,1997) rotate(55)" font-size="15.6" fill="#111" style="font-family:'Liberation Sans',sans-serif;">Block 16</text>
<text transform="translate(3010.9,1997) rotate(55)" font-size="15.6" fill="#111" style="font-family:'Liberation Sans',sans-serif;">Block 17</text>
<text transform="translate(3049.6,1997) rotate(55)" font-size="15.6" fill="#111" style="font-family:'Liberation Sans',sans-serif;">Block 18</text>
<text transform="translate(3088.3,1997) rotate(55)" font-size="15.6" fill="#111" style="font-family:'Liberation Sans',sans-serif;">Block 19</text>
<text transform="translate(3127.0,1997) rotate(55)" font-size="15.6" fill="#111" style="font-family:'Liberation Sans',sans-serif;">Block 20</text>
<text transform="translate(3165.7,1997) rotate(55)" font-size="15.6" fill="#111" style="font-family:'Liberation Sans',sans-serif;">Block 21</text>
<text transform="translate(3204.4,1997) rotate(55)" font-size="15.6" fill="#111" style="font-family:'Liberation Sans',sans-serif;">Block 22</text>
<text transform="translate(3243.1,1997) rotate(55)" font-size="15.6" fill="#111" style="font-family:'Liberation Sans',sans-serif;">Block 23</text>
<text transform="translate(3281.8,1997) rotate(55)" font-size="15.6" fill="#111" style="font-family:'Liberation Sans',sans-serif;">Output</text>
<text transform="translate(2631,1811.5) rotate(-90)" font-size="23" fill="#111" text-anchor="middle" style="font-family:'Liberation Sans',sans-serif;">Relative Accuracy (%)</text>
<text x="3008.0" y="2066.6" font-size="23.0" fill="#111" text-anchor="middle" style="font-family:'Liberation Sans',sans-serif;">Freeze point</text>
<rect x="1217" y="1262" width="1158" height="409" fill="#fbfbfb"/>
<rect x="1575" y="1272" width="380" height="360" rx="34" fill="#e4edf7"/>
<rect x="1994.5" y="1272" width="378.5" height="363" rx="34" fill="#fafaec"/>
<rect x="1222.7" y="1308.5" width="84.9" height="34" rx="4" fill="#fdecd4"/>
<text x="1265.2" y="1331.5" font-size="17.0" fill="#555" text-anchor="middle" style="font-family:'Liberation Sans',sans-serif;">loss 1</text>
<rect x="1227.0" y="1348" width="80.0" height="40" rx="3" fill="#fefcea"/>
<text x="1267.0" y="1376.5" font-size="27.0" fill="#555" text-anchor="middle" style="font-family:'Liberation Sans',sans-serif;">InCA</text>
<rect x="1372.7" y="1308.5" width="85.1" height="34" rx="4" fill="#fdecd4"/>
<text x="1415.2" y="1331.5" font-size="17.0" fill="#555" text-anchor="middle" style="font-family:'Liberation Sans',sans-serif;">loss n-1</text>
<rect x="1377.0" y="1348" width="81.0" height="40" rx="3" fill="#fefcea"/>
<text x="1417.5" y="1376.5" font-size="27.0" fill="#555" text-anchor="middle" style="font-family:'Liberation Sans',sans-serif;">InCA</text>
<rect x="1465.6" y="1308.5" width="85.1" height="34" rx="4" fill="#fdecd4"/>
<text x="1508.2" y="1331.5" font-size="17.0" fill="#555" text-anchor="middle" style="font-family:'Liberation Sans',sans-serif;">loss n</text>
<rect x="1469.8" y="1348" width="80.9" height="40" rx="3" fill="#fefcea"/>
<text x="1510.2" y="1376.5" font-size="27.0" fill="#555" text-anchor="middle" style="font-family:'Liberation Sans',sans-serif;">InCA</text>
<text x="1341.0" y="1352.0" font-size="20.0" fill="#555" text-anchor="middle" style="font-family:'Liberation Sans',sans-serif;">···</text>
<path d="M1259 1424 V1543 H1608 V1533.6 H1270 V1424 Z" fill="#d3d3d3"/>
<path d="M1250 1413.5 L1265.5 1392 L1281.8 1413.5 Z" fill="#d3d3d3"/>
<rect x="1259" y="1410" width="11" height="16" fill="#d3d3d3"/>
<path d="M1412 1409 V1446.8 H1612 V1436.6 H1516 V1409 H1506.4 V1436.6 H1421.8 V1409 Z" fill="#d3d3d3"/>
<path d="M1401.6 1409 L1417 1388 L1433 1409 Z" fill="#d3d3d3"/>
<path d="M1494.7 1409 L1510.5 1388 L1526 1409 Z" fill="#d3d3d3"/>
<path d="M1919 1454 H1989.6 V1552 H2006 V1562 H1979.6 V1464 H1919 Z" fill="#d3d3d3"/>
<path d="M2005.6 1539.7 L2036.5 1556.5 L2005.6 1573 Z" fill="#d3d3d3"/>
<text x="1765.0" y="1304.3" font-size="25.5" fill="#555" text-anchor="middle" style="font-family:'Liberation Sans',sans-serif;">Large Backbone</text>
<text x="2181.0" y="1305.7" font-size="26.0" fill="#555" text-anchor="middle" style="font-family:'Liberation Sans',sans-serif;">InCA</text>
<circle cx="1763.4" cy="1338.0" r="2.2" fill="#555"/>
<circle cx="1763.4" cy="1348.5" r="2.2" fill="#555"/>
<circle cx="1763.4" cy="1359.0" r="2.2" fill="#555"/>
<circle cx="1759.0" cy="1485.0" r="2.2" fill="#555"/>
<circle cx="1759.0" cy="1495.5" r="2.2" fill="#555"/>
<circle cx="1759.0" cy="1506.0" r="2.2" fill="#555"/>
<rect x="1612.3" y="1370.0" width="306.7" height="47.0" rx="4" fill="#958fa4"/>
<text x="1619.0" y="1400.5" font-size="19.5" fill="#fff" text-anchor="start" style="font-family:'Liberation Sans',sans-serif;">Layer M+1</text>
<rect x="1612.3" y="1424.0" width="306.7" height="47.0" rx="4" fill="#958fa4"/>
<text x="1620.0" y="1454.5" font-size="19.5" fill="#fff" text-anchor="start" style="font-family:'Liberation Sans',sans-serif;">Layer M</text>
<rect x="1608.0" y="1516.0" width="307.0" height="47.0" rx="4" fill="#958fa4"/>
<text x="1625.0" y="1546.5" font-size="19.5" fill="#fff" text-anchor="start" style="font-family:'Liberation Sans',sans-serif;">Layer 1</text>
<rect x="1608.0" y="1571.0" width="307.0" height="48.0" rx="4" fill="#958fa4"/>
<text x="1634.7" y="1602.0" font-size="19.5" fill="#fff" text-anchor="start" style="font-family:'Liberation Sans',sans-serif;">Input</text>
<rect x="1709.6" y="1428.5" width="23.4" height="37.5" rx="3" fill="#fff" stroke="#777" stroke-width="1"/><text x="1713.3" y="1453.2" font-size="22" fill="#444" style="font-family:'Liberation Serif',serif;font-style:italic">z<tspan font-size="14" dy="4">1</tspan></text>
<rect x="1740.0" y="1428.5" width="23.7" height="37.5" rx="3" fill="#fff" stroke="#777" stroke-width="1"/><text x="1743.8" y="1453.2" font-size="22" fill="#444" style="font-family:'Liberation Serif',serif;font-style:italic">z<tspan font-size="14" dy="4">2</tspan></text>
<rect x="1804.0" y="1428.5" width="24.0" height="37.5" rx="3" fill="#fff" stroke="#777" stroke-width="1"/><text x="1808.0" y="1453.2" font-size="22" fill="#444" style="font-family:'Liberation Serif',serif;font-style:italic">z<tspan font-size="14" dy="4">n</tspan></text>
<rect x="1704.6" y="1575.0" width="23.4" height="40.0" rx="3" fill="#fff" stroke="#777" stroke-width="1"/><text x="1708.3" y="1601.0" font-size="22" fill="#444" style="font-family:'Liberation Serif',serif;font-style:italic">x<tspan font-size="14" dy="4">1</tspan></text>
<rect x="1735.0" y="1575.0" width="23.7" height="40.0" rx="3" fill="#fff" stroke="#777" stroke-width="1"/><text x="1738.8" y="1601.0" font-size="22" fill="#444" style="font-family:'Liberation Serif',serif;font-style:italic">x<tspan font-size="14" dy="4">2</tspan></text>
<rect x="1806.0" y="1575.0" width="24.0" height="40.0" rx="3" fill="#fff" stroke="#777" stroke-width="1"/><text x="1810.0" y="1601.0" font-size="22" fill="#444" style="font-family:'Liberation Serif',serif;font-style:italic">x<tspan font-size="14" dy="4">n</tspan></text>
<text x="1783.0" y="1452.0" font-size="16.0" fill="#444" text-anchor="middle" style="font-family:'Liberation Sans',sans-serif;">···</text>
<text x="1783.0" y="1598.0" font-size="16.0" fill="#444" text-anchor="middle" style="font-family:'Liberation Sans',sans-serif;">···</text>
<rect x="2129.0" y="1337.0" width="24.6" height="39.0" rx="3" fill="#fbe5bf" stroke="#777" stroke-width="1"/><text x="2133.3" y="1362.5" font-size="22" fill="#444" style="font-family:'Liberation Serif',serif;font-style:italic">y<tspan font-size="14" dy="4"></tspan></text>
<rect x="2081" y="1385" width="120" height="25" rx="3" fill="#958fa4"/>
<text x="2141.0" y="1403.0" font-size="14.5" fill="#fff" text-anchor="middle" style="font-family:'Liberation Sans',sans-serif;">Avg. Pool</text>
<rect x="2080.0" y="1417.0" width="24.6" height="38.0" rx="3" fill="#fff" stroke="#777" stroke-width="1"/><text x="2084.3" y="1442.0" font-size="22" fill="#444" style="font-family:'Liberation Serif',serif;font-style:italic">v<tspan font-size="14" dy="4">1</tspan></text>
<rect x="2112.0" y="1417.0" width="24.5" height="38.0" rx="3" fill="#fff" stroke="#777" stroke-width="1"/><text x="2116.2" y="1442.0" font-size="22" fill="#444" style="font-family:'Liberation Serif',serif;font-style:italic">v<tspan font-size="14" dy="4">2</tspan></text>
<rect x="2177.5" y="1417.0" width="24.3" height="38.0" rx="3" fill="#fff" stroke="#777" stroke-width="1"/><text x="2181.7" y="1442.0" font-size="22" fill="#444" style="font-family:'Liberation Serif',serif;font-style:italic">v<tspan font-size="14" dy="4">k</tspan></text>
<text x="2157.0" y="1441.0" font-size="16.0" fill="#444" text-anchor="middle" style="font-family:'Liberation Sans',sans-serif;">···</text>
<rect x="2030" y="1461.8" width="235.5" height="69.5" rx="4" fill="#958fa4"/>
<text x="2147.7" y="1505.0" font-size="21.5" fill="#fff" text-anchor="middle" style="font-family:'Liberation Sans',sans-serif;">Cross Attention</text>
<rect x="2045.7" y="1537.5" width="25.0" height="37.5" rx="3" fill="#fff" stroke="#777" stroke-width="1"/><text x="2050.2" y="1562.2" font-size="22" fill="#444" style="font-family:'Liberation Serif',serif;font-style:italic">z<tspan font-size="14" dy="4">1</tspan></text>
<rect x="2078.5" y="1537.5" width="23.5" height="37.5" rx="3" fill="#fff" stroke="#777" stroke-width="1"/><text x="2082.2" y="1562.2" font-size="22" fill="#444" style="font-family:'Liberation Serif',serif;font-style:italic">z<tspan font-size="14" dy="4">2</tspan></text>
<rect x="2110.0" y="1537.5" width="24.6" height="37.5" rx="3" fill="#fff" stroke="#777" stroke-width="1"/>
<rect x="2187.0" y="1537.5" width="24.6" height="37.5" rx="3" fill="#fff" stroke="#777" stroke-width="1"/>
<rect x="2221.5" y="1537.5" width="24.3" height="37.5" rx="3" fill="#fff" stroke="#777" stroke-width="1"/><text x="2225.7" y="1562.2" font-size="22" fill="#444" style="font-family:'Liberation Serif',serif;font-style:italic">z<tspan font-size="14" dy="4">n</tspan></text>
<text x="2160.0" y="1562.0" font-size="16.0" fill="#444" text-anchor="middle" style="font-family:'Liberation Sans',sans-serif;">···</text>
<text x="2160.0" y="1608.4" font-size="20.0" fill="#1a78c2" text-anchor="middle" style="font-family:'Liberation Sans',sans-serif;">Layer Activations</text>
<text x="2326.0" y="1419.0" font-size="20.0" fill="#d8287c" text-anchor="middle" style="font-family:'Liberation Sans',sans-serif;">Queries</text>
<rect x="2290" y="1430.0" width="73.5" height="37.4" rx="3" fill="#f3e5ee" stroke="#777" stroke-width="1"/>
<text x="2318" y="1454.7" font-size="23" fill="#444" style="font-family:'Liberation Serif',serif;font-style:italic">q<tspan font-size="15" dy="4">1</tspan></text>
<rect x="2290" y="1473.3" width="73.5" height="37.0" rx="3" fill="#f3e5ee" stroke="#777" stroke-width="1"/>
<text x="2318" y="1497.8" font-size="23" fill="#444" style="font-family:'Liberation Serif',serif;font-style:italic">q<tspan font-size="15" dy="4">2</tspan></text>
<rect x="2290" y="1531.3" width="73.5" height="37.7" rx="3" fill="#f3e5ee" stroke="#777" stroke-width="1"/>
<text x="2318" y="1556.2" font-size="23" fill="#444" style="font-family:'Liberation Serif',serif;font-style:italic">q<tspan font-size="15" dy="4">k</tspan></text>
<circle cx="2327" cy="1514.0" r="1" fill="#555"/>
<circle cx="2327" cy="1518.5" r="1" fill="#555"/>
<circle cx="2327" cy="1523.0" r="1" fill="#555"/>
<circle cx="2327" cy="1527.5" r="1" fill="#555"/>
<text x="1391.0" y="1664.0" font-size="32.0" fill="#111" text-anchor="middle" style="font-family:'Liberation Sans',sans-serif;">(A)</text>
<text x="1762.0" y="1666.0" font-size="32.0" fill="#111" text-anchor="middle" style="font-family:'Liberation Sans',sans-serif;">(B)</text>
<text x="2174.0" y="1668.6" font-size="32.0" fill="#111" text-anchor="middle" style="font-family:'Liberation Sans',sans-serif;">(C)</text>
<line x1="1231" y1="2151.7" x2="2372.4" y2="2151.7" stroke="#222" stroke-width="1.8"/>
<line x1="1231" y1="2178.8" x2="2372.4" y2="2178.8" stroke="#222" stroke-width="1.2"/>
<line x1="1231" y1="2208.0" x2="2372.4" y2="2208.0" stroke="#222" stroke-width="1.2"/>
<line x1="1231" y1="2362.7" x2="2372.4" y2="2362.7" stroke="#222" stroke-width="1.2"/>
<line x1="1231" y1="2392.6" x2="2372.4" y2="2392.6" stroke="#222" stroke-width="1.2"/>
<line x1="1231" y1="2442.0" x2="2372.4" y2="2442.0" stroke="#222" stroke-width="1.8"/>
<text x="1848.4" y="2171.0" font-size="18.5" fill="#111" style="font-family:'Liberation Serif',serif;">Mean Top-1 Test Error (Max. gap to full FT)</text>
<text x="1242.0" y="2197.8" font-size="18.5" fill="#111" style="font-family:'Liberation Serif',serif;">Category</text>
<text x="1395.8" y="2197.8" font-size="18.5" fill="#111" style="font-family:'Liberation Serif',serif;">Architecture</text>
<text x="1608.8" y="2197.8" font-size="18.5" fill="#111" style="font-family:'Liberation Serif',serif;">Pretraining data</text>
<text x="1763.4" y="2197.8" font-size="18.5" fill="#111" style="font-family:'Liberation Serif',serif;">Full FT</text>
<text x="1842.6" y="2197.8" font-size="18.5" fill="#111" style="font-family:'Liberation Serif',serif;">InCA</text>
<text x="1942.5" y="2197.8" font-size="18.5" fill="#111" style="font-family:'Liberation Serif',serif;">InCA (last)</text>
<text x="2049.7" y="2197.8" font-size="18.5" fill="#111" style="font-family:'Liberation Serif',serif;">inter. LP</text>
<text x="2165.8" y="2197.8" font-size="18.5" fill="#111" style="font-family:'Liberation Serif',serif;">LP</text>
<text x="2281.3" y="2197.8" font-size="18.5" fill="#111" style="font-family:'Liberation Serif',serif;">Model size</text>
<text x="1395.8" y="2227.0" font-size="18.5" fill="#111" style="font-family:'Liberation Serif',serif;">ViT-B/16 [<tspan fill="#1fd01f">18</tspan>]</text>
<text x="1608.8" y="2227.0" font-size="18.5" fill="#111" style="font-family:'Liberation Serif',serif;">In21K</text>
<text x="1763.4" y="2227.0" font-size="18.5" fill="#111" style="font-family:'Liberation Serif',serif;">13.0 (0)</text>
<text x="1842.6" y="2227.0" font-size="18.5" fill="#111" style="font-family:'Liberation Serif',serif;">15.9 (-7.6)</text>
<text x="1942.5" y="2227.0" font-size="18.5" fill="#111" style="font-family:'Liberation Serif',serif;">17.5 (-16.4)</text>
<text x="2049.7" y="2227.0" font-size="18.5" fill="#111" style="font-family:'Liberation Serif',serif;">23.9 (-32.4)</text>
<text x="2165.8" y="2227.0" font-size="18.5" fill="#111" style="font-family:'Liberation Serif',serif;">24.3 (-32.4)</text>
<text x="2281.3" y="2227.0" font-size="18.5" fill="#111" style="font-family:'Liberation Serif',serif;">86.5M</text>
<text x="1395.8" y="2247.0" font-size="18.5" fill="#111" style="font-family:'Liberation Serif',serif;">ViT-B/16 [<tspan fill="#1fd01f">44</tspan>]</text>
<text x="1608.8" y="2247.0" font-size="18.5" fill="#111" style="font-family:'Liberation Serif',serif;">ALBEF (CC14M)</text>
<text x="1763.4" y="2247.0" font-size="18.5" fill="#111" style="font-family:'Liberation Serif',serif;">13.8 (0)</text>
<text x="1842.6" y="2247.0" font-size="18.5" fill="#111" style="font-family:'Liberation Serif',serif;">13.5 (-4.2)</text>
<text x="1942.5" y="2247.0" font-size="18.5" fill="#111" style="font-family:'Liberation Serif',serif;">14.8 (-9.3)</text>
<text x="2049.7" y="2247.0" font-size="18.5" fill="#111" style="font-family:'Liberation Serif',serif;">24.7 (-42.6)</text>
<text x="2165.8" y="2247.0" font-size="18.5" fill="#111" style="font-family:'Liberation Serif',serif;">25.8 (-42.6)</text>
<text x="2281.3" y="2247.0" font-size="18.5" fill="#111" style="font-family:'Liberation Serif',serif;">85.9M</text>
<text x="1395.8" y="2267.0" font-size="18.5" fill="#111" style="font-family:'Liberation Serif',serif;">ViT-L/16 [<tspan fill="#1fd01f">67</tspan>]</text>
<text x="1608.8" y="2267.0" font-size="18.5" fill="#111" style="font-family:'Liberation Serif',serif;">In21K (DeiT)</text>
<text x="1763.4" y="2267.0" font-size="18.5" fill="#111" style="font-family:'Liberation Serif',serif;">10.0 (0)</text>
<text x="1842.6" y="2267.0" font-size="18.5" fill="#111" style="font-family:'Liberation Serif',serif;">9.8 (-2.3)</text>
<text x="1942.5" y="2267.0" font-size="18.5" fill="#111" style="font-family:'Liberation Serif',serif;">11.5 (-7)</text>
<text x="2049.7" y="2267.0" font-size="18.5" fill="#111" style="font-family:'Liberation Serif',serif;">17.2 (-35.7)</text>
<text x="2165.8" y="2267.0" font-size="18.5" fill="#111" style="font-family:'Liberation Serif',serif;">21.9 (-52.5)</text>
<text x="2281.3" y="2267.0" font-size="18.5" fill="#111" style="font-family:'Liberation Serif',serif;">304.3M</text>
<text x="1395.8" y="2288.0" font-size="18.5" fill="#111" style="font-family:'Liberation Serif',serif;">ViT-L/16 @384 [<tspan fill="#1fd01f">67</tspan>]</text>
<text x="1608.8" y="2288.0" font-size="18.5" fill="#111" style="font-family:'Liberation Serif',serif;">In21K (DeiT)</text>
<text x="1763.4" y="2288.0" font-size="18.5" fill="#111" style="font-family:'Liberation Serif',serif;">-<tspan font-size="12" dy="-7">†</tspan><tspan dy="7">​</tspan></text>
<text x="1842.6" y="2288.0" font-size="18.5" fill="#111" style="font-family:'Liberation Serif',serif;">9.2 (-0.6<tspan font-size="12" dy="-7">†</tspan><tspan dy="7">)</tspan></text>
<text x="1942.5" y="2288.0" font-size="18.5" fill="#111" style="font-family:'Liberation Serif',serif;">11.7 (-9.1<tspan font-size="12" dy="-7">†</tspan><tspan dy="7">)</tspan></text>
<text x="2049.7" y="2288.0" font-size="18.5" fill="#111" style="font-family:'Liberation Serif',serif;">17.3 (-38.1<tspan font-size="12" dy="-7">†</tspan><tspan dy="7">)</tspan></text>
<text x="2165.8" y="2288.0" font-size="18.5" fill="#111" style="font-family:'Liberation Serif',serif;">22.0 (-54.4<tspan font-size="12" dy="-7">†</tspan><tspan dy="7">)</tspan></text>
<text x="2281.3" y="2288.0" font-size="18.5" fill="#111" style="font-family:'Liberation Serif',serif;">304.7M</text>
<text x="1395.8" y="2310.0" font-size="18.5" fill="#111" style="font-family:'Liberation Serif',serif;">CLIP-ViT-L/14@336 [<tspan fill="#1fd01f">61</tspan>]</text>
<text x="1608.8" y="2310.0" font-size="18.5" fill="#111" style="font-family:'Liberation Serif',serif;">400M Im-Text</text>
<text x="1763.4" y="2310.0" font-size="18.5" fill="#111" style="font-family:'Liberation Serif',serif;">-<tspan font-size="12" dy="-7">†</tspan><tspan dy="7">​</tspan></text>
<text x="1842.6" y="2310.0" font-size="18.5" fill="#111" style="font-family:'Liberation Serif',serif;">9.2</text>
<text x="1942.5" y="2310.0" font-size="18.5" fill="#111" style="font-family:'Liberation Serif',serif;">10.6</text>
<text x="2049.7" y="2310.0" font-size="18.5" fill="#111" style="font-family:'Liberation Serif',serif;">19.6</text>
<text x="2165.8" y="2310.0" font-size="18.5" fill="#111" style="font-family:'Liberation Serif',serif;">21.8</text>
<text x="2281.3" y="2310.0" font-size="18.5" fill="#111" style="font-family:'Liberation Serif',serif;">304.2M</text>
<text x="1395.8" y="2330.7" font-size="18.5" fill="#111" style="font-family:'Liberation Serif',serif;">ViT-H/14 [<tspan fill="#1fd01f">18</tspan>]</text>
<text x="1608.8" y="2330.7" font-size="18.5" fill="#111" style="font-family:'Liberation Serif',serif;">2B Im-Text</text>
<text x="1763.4" y="2330.7" font-size="18.5" fill="#111" style="font-family:'Liberation Serif',serif;">-<tspan font-size="12" dy="-7">†</tspan><tspan dy="7">​</tspan></text>
<text x="1842.6" y="2330.7" font-size="18.5" fill="#111" style="font-family:'Liberation Serif',serif;">9.4</text>
<text x="1942.5" y="2330.7" font-size="18.5" fill="#111" style="font-family:'Liberation Serif',serif;">10.4</text>
<text x="2049.7" y="2330.7" font-size="18.5" fill="#111" style="font-family:'Liberation Serif',serif;">14.0</text>
<text x="2165.8" y="2330.7" font-size="18.5" fill="#111" style="font-family:'Liberation Serif',serif;">15.2</text>
<text x="2281.3" y="2330.7" font-size="18.5" fill="#111" style="font-family:'Liberation Serif',serif;">632.8M</text>
<text x="1395.8" y="2352.4" font-size="18.5" fill="#111" style="font-family:'Liberation Serif',serif;">ViT-G/14 [<tspan fill="#1fd01f">31</tspan>]</text>
<text x="1608.8" y="2352.4" font-size="18.5" fill="#111" style="font-family:'Liberation Serif',serif;">2B Im-Text</text>
<text x="1763.4" y="2352.4" font-size="18.5" fill="#111" style="font-family:'Liberation Serif',serif;">-<tspan font-size="12" dy="-7">†</tspan><tspan dy="7">​</tspan></text>
<text x="1842.6" y="2352.4" font-size="18.5" fill="#111" style="font-family:'Liberation Serif',serif;">9.6</text>
<text x="1942.5" y="2352.4" font-size="18.5" fill="#111" style="font-family:'Liberation Serif',serif;">10.4</text>
<text x="2049.7" y="2352.4" font-size="18.5" fill="#111" style="font-family:'Liberation Serif',serif;">15.3</text>
<text x="2165.8" y="2352.4" font-size="18.5" fill="#111" style="font-family:'Liberation Serif',serif;">16.8</text>
<text x="2281.3" y="2352.4" font-size="18.5" fill="#111" style="font-family:'Liberation Serif',serif;">1884.9M</text>
<text x="1395.8" y="2382.2" font-size="18.5" fill="#111" style="font-family:'Liberation Serif',serif;">SWIN-L [<tspan fill="#1fd01f">48</tspan>]</text>
<text x="1608.8" y="2382.2" font-size="18.5" fill="#111" style="font-family:'Liberation Serif',serif;">In21K</text>
<text x="1763.4" y="2382.2" font-size="18.5" fill="#111" style="font-family:'Liberation Serif',serif;">9.3 (0)</text>
<text x="1842.6" y="2382.2" font-size="18.5" fill="#111" style="font-family:'Liberation Serif',serif;">10 (-3.6)</text>
<text x="1942.5" y="2382.2" font-size="18.5" fill="#111" style="font-family:'Liberation Serif',serif;">12.4 (-9.5)</text>
<text x="2049.7" y="2382.2" font-size="18.5" fill="#111" style="font-family:'Liberation Serif',serif;">15.8 (-31.3)</text>
<text x="2165.8" y="2382.2" font-size="18.5" fill="#111" style="font-family:'Liberation Serif',serif;">18.3 (-40.5)</text>
<text x="2281.3" y="2382.2" font-size="18.5" fill="#111" style="font-family:'Liberation Serif',serif;">196.5M</text>
<text x="1395.8" y="2411.5" font-size="18.5" fill="#111" style="font-family:'Liberation Serif',serif;">ConvNext-B [<tspan fill="#1fd01f">49</tspan>]</text>
<text x="1608.8" y="2411.5" font-size="18.5" fill="#111" style="font-family:'Liberation Serif',serif;">In21K</text>
<text x="1763.4" y="2411.5" font-size="18.5" fill="#111" style="font-family:'Liberation Serif',serif;">9.4 (0)</text>
<text x="1842.6" y="2411.5" font-size="18.5" fill="#111" style="font-family:'Liberation Serif',serif;">10.7 (-7.4)</text>
<text x="1942.5" y="2411.5" font-size="18.5" fill="#111" style="font-family:'Liberation Serif',serif;">12.5 (-12.6)</text>
<text x="2049.7" y="2411.5" font-size="18.5" fill="#111" style="font-family:'Liberation Serif',serif;">19.1 (-44.2)</text>
<text x="2165.8" y="2411.5" font-size="18.5" fill="#111" style="font-family:'Liberation Serif',serif;">19.4 (-44.2)</text>
<text x="2281.3" y="2411.5" font-size="18.5" fill="#111" style="font-family:'Liberation Serif',serif;">88.5M</text>
<text x="1395.8" y="2431.0" font-size="18.5" fill="#111" style="font-family:'Liberation Serif',serif;">ResNext-101 [<tspan fill="#1fd01f">74</tspan>]</text>
<text x="1608.8" y="2431.0" font-size="18.5" fill="#111" style="font-family:'Liberation Serif',serif;">IG-3.5B [<tspan fill="#1fd01f">53</tspan>]</text>
<text x="1763.4" y="2431.0" font-size="18.5" fill="#111" style="font-family:'Liberation Serif',serif;">11.4 (0)</text>
<text x="1842.6" y="2431.0" font-size="18.5" fill="#111" style="font-family:'Liberation Serif',serif;">12 (-8.7)</text>
<text x="1942.5" y="2431.0" font-size="18.5" fill="#111" style="font-family:'Liberation Serif',serif;">17.3 (-27.1)</text>
<text x="2049.7" y="2431.0" font-size="18.5" fill="#111" style="font-family:'Liberation Serif',serif;">20.1 (-38.8)</text>
<text x="2165.8" y="2431.0" font-size="18.5" fill="#111" style="font-family:'Liberation Serif',serif;">21.3 (-39.7)</text>
<text x="2281.3" y="2431.0" font-size="18.5" fill="#111" style="font-family:'Liberation Serif',serif;">468.5M</text>
<text x="1257.0" y="2227.0" font-size="18.5" fill="#111" style="font-family:'Liberation Serif',serif;">Vanilla</text>
<text x="1242.0" y="2247.0" font-size="18.5" fill="#111" style="font-family:'Liberation Serif',serif;">Transformer</text>
<text x="1242.0" y="2382.2" font-size="18.5" fill="#111" style="font-family:'Liberation Serif',serif;">Hier. Transformer</text>
<text x="1242.0" y="2411.5" font-size="18.5" fill="#111" style="font-family:'Liberation Serif',serif;">Convolutional</text>
</svg>
<div class="t" style="left:18.3px;top:30.2px;font-size:60.00px;font-weight:700;color:#ffffff;transform:scaleX(1.0186);-webkit-text-stroke:0;">Your representations are in the network: composable and parallel</div>
<div class="t" style="left:18.3px;top:97.2px;font-size:60.00px;font-weight:700;color:#ffffff;transform:scaleX(1.0158);-webkit-text-stroke:0;">adaptation for large scale models</div>
<div class="t" style="left:18.3px;top:221.8px;font-size:31.00px;color:#ffffff;transform:scaleX(1.0385);-webkit-text-stroke:0;">Yonatan Dukler, Alessandro Achille, Hao Yang, Benjamin Bowman, Varsha Vivek, Luca</div>
<div class="t" style="left:18.3px;top:256.8px;font-size:31.00px;color:#ffffff;transform:scaleX(1.0342);-webkit-text-stroke:0;">Zancato, Avinash Ravichandran, Charless Fowlkes, Ashwin Swaminathan, Stefano Soatto</div>
<div class="t" style="left:18.3px;top:300.8px;font-size:31.00px;color:#ffffff;-webkit-text-stroke:0;">AWS AI Labs</div>
<div class="t" style="left:1678.0px;top:2647.1px;font-size:27.00px;color:#ffffff;transform:scaleX(0.9669);-webkit-text-stroke:0;">NeurIPS 2023</div>
<div class="t" style="left:2962.0px;top:2637.5px;font-size:27.00px;color:#ffffff;transform:scaleX(0.9890);-webkit-text-stroke:0;">*Corresponding author: dukleryoni@gmail.com</div>
<div class="t" style="left:73.2px;top:420.6px;font-size:53.00px;transform:scaleX(0.9741);-webkit-text-stroke:2.2px #fff;">Introduction</div>
<div class="t" style="left:73.2px;top:505.0px;font-size:28.50px;transform:scaleX(0.9922);">Today models are developed on top of a strong pre-trained network with the de-facto</div>
<div class="t" style="left:73.2px;top:540.2px;font-size:28.50px;transform:scaleX(0.9729);">approach of harnessing a pre-training is via <u>full fine-tuning (Full FT)</u>. In recent times, such</div>
<div class="t" style="left:73.2px;top:575.4px;font-size:28.50px;transform:scaleX(0.9744);">pre-trainings are becoming considerably larger making Full FT out of reach in many</div>
<div class="t" style="left:73.2px;top:610.7px;font-size:28.50px;transform:scaleX(0.9805);">practical settings. Further once fine-tuned the network is specialized irreversibly.</div>
<div class="t" style="left:73.2px;top:681.8px;font-size:28.50px;transform:scaleX(0.9755);">While there exist other efficient adaptions such as Linear Probing, such methods fall short</div>
<div class="t" style="left:73.2px;top:716.5px;font-size:28.50px;transform:scaleX(0.9833);">as they are unable to utilize inner representations of the network.</div>
<div class="t" style="left:73.2px;top:752.3px;font-size:28.50px;transform:scaleX(0.9712);">Indeed, Full FT optimizes all of the model’s parameters, in search for any representation</div>
<div class="t" style="left:73.2px;top:787.6px;font-size:28.50px;transform:scaleX(0.9771);">that can be harnessed for the adaptation.</div>
<div class="t" style="left:73.2px;top:858.1px;font-size:28.50px;transform:scaleX(0.9738);">To this end, we present Introspective Cross-Attention (InCA) adaptation as an efficient,</div>
<div class="t" style="left:73.2px;top:893.4px;font-size:28.50px;transform:scaleX(0.9781);">modular, and versatile approach for task adaptation. InCA efficiently searches for useful</div>
<div class="t" style="left:73.2px;top:929.2px;font-size:28.50px;transform:scaleX(0.9844);">representations in the model exhaustively and in parallel over the network’s internal</div>
<div class="t" style="left:73.2px;top:964.5px;font-size:28.50px;transform:scaleX(0.9925);">activations by training numerous isolated adapters that are attached to the different</div>
<div class="t" style="left:73.2px;top:1000.3px;font-size:28.50px;transform:scaleX(0.9795);">network intermediate activations. Each adapter <u>does not</u> feed back to the network and is</div>
<div class="t" style="left:73.2px;top:1035.6px;font-size:28.50px;transform:scaleX(0.9930);">trained independently in parallel.</div>
<div class="t" style="left:74.3px;top:1124.9px;font-size:53.00px;transform:scaleX(0.9123);-webkit-text-stroke:2.2px #fff;">InCA’s Parallel Training</div>
<div class="t" style="left:74.3px;top:1195.8px;font-size:27.50px;transform:scaleX(1.0042);">Given a network F, with L layers and set of K intermediate layers {j<sub>1</sub>, … j<sub>k</sub>} of interest, we</div>
<div class="t" style="left:74.3px;top:1228.3px;font-size:27.50px;transform:scaleX(1.0150);">attach a set of isolated “adapter models” to F at the selected intermediate layers.</div>
<div class="t" style="left:74.3px;top:1293.4px;font-size:27.50px;">For each selected layer, the intermediate activation a<sub>j</sub> = F<sub>j</sub> (x) is used as input to an</div>
<div class="t" style="left:74.3px;top:1325.4px;font-size:27.50px;">adapter h<sub>j</sub>(a). Each adapter is used as an independent model to compute predictions and</div>
<div class="t" style="left:74.3px;top:1357.8px;font-size:27.50px;transform:scaleX(0.9967);">losses separately. This computation is done in parallel and we summarize InCA</div>
<div class="t" style="left:74.3px;top:1390.5px;font-size:27.50px;transform:scaleX(1.0244);">adaptation training as:</div>
<div class="t" style="left:111.8px;top:1455.8px;font-size:27.50px;transform:scaleX(0.9950);">Run a single inference of F with a batch x (this computes selected activations). This is</div>
<div class="t" style="left:111.8px;top:1488.8px;font-size:27.50px;transform:scaleX(1.0035);">possible to do for any architecture (e.g. in PyTorch, using</div>
<div class="t" style="left:111.8px;top:1585.8px;font-size:27.50px;transform:scaleX(0.9943);">For each adapter, pass the activations and compute predictions and losses,</div>
<div class="t" style="left:111.8px;top:1618.4px;font-size:27.50px;transform:scaleX(0.9403);">L<sub>j</sub> = L(h<sub>j</sub> (F<sub>j</sub> (x)), y).</div>
<div class="t" style="left:74.3px;top:1683.5px;font-size:27.50px;transform:scaleX(1.0048);">3. Compute &nbsp;L<sub>Σ</sub>= Σ L<sub>j</sub> and backpropagate. AutoDiff. resolves the gradients for each</div>
<div class="t" style="left:74.3px;top:1714.8px;font-size:27.50px;transform:scaleX(1.0047);">adapter in { h<sub>j</sub> } automatically as desired.</div>
<div class="t" style="left:74.3px;top:1779.8px;font-size:27.50px;"><b>Note</b>: Since we do not backpropagate through F, GPU memory is greatly reduced as</div>
<div class="t" style="left:74.3px;top:1812.8px;font-size:27.50px;transform:scaleX(1.0030);">compared with Full-FT .</div>
<div class="t" style="left:74.3px;top:1455.8px;font-size:27.50px;">1.</div>
<div class="t" style="left:74.3px;top:1585.8px;font-size:27.50px;">2.</div>
<div class="t" style="left:111.8px;top:1519.8px;font-size:27.50px;transform:scaleX(1.1218);"><span style="font-family:'Liberation Mono',monospace;font-size:24px;color:#3a3a3a;-webkit-text-stroke:0;">register_forward_hook()</span>)</div>
<div class="t" style="left:103.0px;top:1889.9px;font-size:44.00px;font-weight:700;transform:scaleX(0.9816);">Computation Sharing and Benefits</div>
<div class="t" style="left:103.0px;top:1991.8px;font-size:27.50px;transform:scaleX(1.0054);"><u><b>Computation Sharing</b></u><b>:</b> By not modifying the <u><b><i>execution</i></b></u> of the pre-trained network,</div>
<div class="t" style="left:103.0px;top:2027.4px;font-size:27.50px;transform:scaleX(1.0080);">multiple InCA adapters share the same backbone computation.</div>
<div class="t" style="left:103.0px;top:2062.8px;font-size:27.50px;transform:scaleX(1.0257);"><svg width="24" height="18" viewBox="0 0 24 18" style="vertical-align:-1px;margin-right:9px"><path d="M1 9H21M13 1.5L21 9L13 16.5" fill="none" stroke="#232f3e" stroke-width="3"/></svg><b>Training:</b> Multiple adapters are trained in parallel efficiently.</div>
<div class="t" style="left:103.0px;top:2097.8px;font-size:27.50px;transform:scaleX(1.0096);"><svg width="24" height="18" viewBox="0 0 24 18" style="vertical-align:-1px;margin-right:9px"><path d="M1 9H21M13 1.5L21 9L13 16.5" fill="none" stroke="#232f3e" stroke-width="3"/></svg><b>Inference:</b> Multiple adapters can be used together, ensembled or used in different</div>
<div class="t" style="left:103.0px;top:2133.8px;font-size:27.50px;transform:scaleX(1.0080);">tasks (e.g. Multi-task learning). The modularity of InCA enables flexible execution.</div>
<div class="t" style="left:103.0px;top:2198.3px;font-size:27.50px;transform:scaleX(1.0067);"><u><b>Scalability</b></u> : In InCA, no gradients are backpropagated through the network (unlike</div>
<div class="t" style="left:103.0px;top:2233.8px;font-size:27.50px;transform:scaleX(0.9940);">LoRA [3], VPT [2], etc.) and only a set of activations are cached (as opposed to all</div>
<div class="t" style="left:103.0px;top:2269.4px;font-size:27.50px;transform:scaleX(0.9917);">during full FT). This enables scaling InCA to massive models efficiently! (see Figure 1).</div>
<div class="t" style="left:103.0px;top:2333.8px;font-size:27.50px;transform:scaleX(1.0082);"><u><b>Generality</b></u><b>:</b> InCA can be automatically be applied to any network architecture by</div>
<div class="t" style="left:103.0px;top:2369.3px;font-size:27.50px;transform:scaleX(1.0122);">simply specifying which intermediate activations to extract. Further InCA enables</div>
<div class="t" style="left:103.0px;top:2403.8px;font-size:27.50px;transform:scaleX(1.0076);">diverse learning scenarios: Multi-task learning, continual learning, and Un-Learning .</div>
<div class="t" style="left:103.0px;top:2468.8px;font-size:27.50px;transform:scaleX(1.0037);"><u><b>Performance</b></u><b>:</b> InCA is the top performing adaptation and closes the gap to Full-FT on</div>
<div class="t" style="left:103.0px;top:2504.3px;font-size:27.50px;transform:scaleX(0.9740);">a diverse set tasks (see Table 1)</div>
<div class="t" style="left:1924.0px;top:422.4px;font-size:24.50px;transform:scaleX(0.9474);"><b>Figure 1</b>: Scalability of</div>
<div class="t" style="left:1924.0px;top:458.0px;font-size:24.50px;transform:scaleX(0.9816);">adaptation methods to</div>
<div class="t" style="left:1924.0px;top:493.4px;font-size:24.50px;transform:scaleX(0.9637);">different architecture scales</div>
<div class="t" style="left:1924.0px;top:528.4px;font-size:24.50px;transform:scaleX(0.9412);">(measured in training GPU</div>
<div class="t" style="left:1924.0px;top:564.0px;font-size:24.50px;transform:scaleX(0.9723);">requirement). Methods that</div>
<div class="t" style="left:1924.0px;top:599.4px;font-size:24.50px;transform:scaleX(0.9731);">backpropagate through the</div>
<div class="t" style="left:1924.0px;top:634.4px;font-size:24.50px;transform:scaleX(0.9823);">pre-trained network incur big</div>
<div class="t" style="left:1924.0px;top:670.0px;font-size:24.50px;transform:scaleX(0.9708);">costs for large model training.</div>
<div class="t" style="left:1239.0px;top:760.4px;font-size:53.00px;transform:scaleX(0.9548);-webkit-text-stroke:2.2px #fff;">Adapter Architecture</div>
<div class="t" style="left:1266.7px;top:847.6px;font-size:27.50px;transform:scaleX(1.0153);">Key to the performance of the InCA adapters is the use of cross-attention for extracting</div>
<div class="t" style="left:1266.7px;top:880.2px;font-size:27.50px;transform:scaleX(1.0385);">information from the large intermediate activations.</div>
<div class="t" style="left:1266.7px;top:946.4px;font-size:27.50px;">Given a large-dimensional intermediate activation map [z<sub>1</sub>, … z<sub>n</sub>] with each z<sub>n</sub> ∈ R<sup>d</sup>, we</div>
<div class="t" style="left:1266.7px;top:978.8px;font-size:27.50px;transform:scaleX(1.0263);">apply cross-attention <u>with latent queries</u> [q<sub>1</sub>, … q<sub>k</sub>]. Both the latent queries and the</div>
<div class="t" style="left:1266.7px;top:1011.5px;font-size:27.50px;transform:scaleX(1.0109);">cross-attention parameters are learned, followed by classification head.</div>
<div class="t" style="left:1266.7px;top:1075.5px;font-size:27.50px;transform:scaleX(1.0231);">Cross-attention on top of the activations enables extracting much more effectively</div>
<div class="t" style="left:1266.7px;top:1107.8px;font-size:27.50px;transform:scaleX(1.0032);">than simple averaging and enables InCA to achieve the top result (a maximum gap</div>
<div class="t" style="left:1266.7px;top:1140.6px;font-size:27.50px;transform:scaleX(1.0132);">from full FT of 2.3 pts vs. 35.7 pts for Linear Probing over 11 downstream datasets)</div>
<div class="t" style="left:1237.0px;top:850.6px;font-size:24.00px;">•</div>
<div class="t" style="left:1237.0px;top:949.4px;font-size:24.00px;">•</div>
<div class="t" style="left:1237.0px;top:1078.5px;font-size:24.00px;">•</div>
<div class="t" style="left:1256.0px;top:1705.9px;font-size:53.00px;transform:scaleX(0.9184);-webkit-text-stroke:2.2px #fff;">Open-InCA</div>
<div class="t" style="left:1283.0px;top:1792.8px;font-size:27.50px;transform:scaleX(1.0126);">In continual-learning and unlearning we present the <u>Open-InCA</u> which disentangles the</div>
<div class="t" style="left:1283.0px;top:1825.8px;font-size:27.50px;transform:scaleX(1.0045);">representations learned between different classes.</div>
<div class="t" style="left:1283.0px;top:1890.8px;font-size:27.50px;transform:scaleX(0.9860);">In Open-InCA for a c-class task, each class has a corresponding learnable query token</div>
<div class="t" style="left:1283.0px;top:1923.3px;font-size:27.50px;transform:scaleX(1.0041);">q<sub>c</sub>, which aggregates only class-specific information. Each aggregated representation</div>
<div class="t" style="left:1283.0px;top:1955.8px;font-size:27.50px;transform:scaleX(1.0117);">has a corresponding prediction head, which completely disentangles the learning of</div>
<div class="t" style="left:1283.0px;top:1988.4px;font-size:27.50px;transform:scaleX(0.9814);">each class (including LayerNorm).</div>
<div class="t" style="left:1253.0px;top:1795.8px;font-size:24.00px;">•</div>
<div class="t" style="left:1253.0px;top:1893.8px;font-size:24.00px;">•</div>
<div class="t" style="left:1232.5px;top:2055.9px;font-size:53.00px;transform:scaleX(0.9366);-webkit-text-stroke:2.2px #fff;">Adaptation Results</div>
<div class="t" style="left:1215.0px;top:2455.2px;font-size:23.50px;"><b>Table 1</b>: Mean Top-1 Test Error for transfer learning methods on 11 downstream tasks and max. gap to full FT</div>
<div class="t" style="left:2431.0px;top:421.0px;font-size:53.00px;transform:scaleX(0.9238);-webkit-text-stroke:2.2px #fff;">InCA’s Representation Signatures</div>
<div class="t" style="left:2501.5px;top:525.0px;font-size:28.00px;transform:scaleX(1.0060);">A byproduct of InCA are “performance signatures” of different activations.</div>
<div class="t" style="left:2501.5px;top:590.1px;font-size:28.00px;transform:scaleX(0.9937);">Enables studying the inner dynamics of the network.</div>
<div class="t" style="left:2501.5px;top:654.7px;font-size:28.00px;transform:scaleX(0.9949);">Different behavior on different tasks, some signatures are consistent</div>
<div class="t" style="left:2501.5px;top:687.4px;font-size:28.00px;transform:scaleX(0.9448);">across models.</div>
<div class="t" style="left:2462.0px;top:528.4px;font-size:24.00px;">•</div>
<div class="t" style="left:2462.0px;top:593.5px;font-size:24.00px;">•</div>
<div class="t" style="left:2462.0px;top:658.1px;font-size:24.00px;">•</div>
<div class="t" style="left:3119.0px;top:752.2px;font-size:24.50px;transform:scaleX(0.8997);"><b>Figure 2</b>: InCA</div>
<div class="t" style="left:3119.0px;top:786.2px;font-size:24.50px;transform:scaleX(0.9453);">Performance</div>
<div class="t" style="left:3119.0px;top:820.8px;font-size:24.50px;transform:scaleX(0.9540);">Signature (computed</div>
<div class="t" style="left:3119.0px;top:856.2px;font-size:24.50px;transform:scaleX(0.9408);">in parallel) InCA</div>
<div class="t" style="left:3119.0px;top:891.2px;font-size:24.50px;transform:scaleX(0.9553);">adapters performance</div>
<div class="t" style="left:3119.0px;top:926.7px;font-size:24.50px;transform:scaleX(1.0285);">for different</div>
<div class="t" style="left:3119.0px;top:962.8px;font-size:24.50px;transform:scaleX(0.9778);">activations for</div>
<div class="t" style="left:3119.0px;top:997.2px;font-size:24.50px;transform:scaleX(0.9802);">different datasets</div>
<div class="t" style="left:2441.0px;top:1399.9px;font-size:23.50px;transform:scaleX(1.0182);"><b>Figure 3</b>: Top activation layer for different pre-trained networks MIT 67 (left) and Aircraft (right)</div>
<div class="t" style="left:2431.0px;top:1492.0px;font-size:53.00px;transform:scaleX(0.9550);-webkit-text-stroke:2.2px #fff;">Your representations are in the network</div>
<div class="t" style="left:2437.0px;top:1577.5px;font-size:28.50px;transform:scaleX(0.9788);-webkit-text-stroke:0.5px #232f3e;">We study partial fine-tuning performance as compared with InCA</div>
<div class="t" style="left:2478.7px;top:2083.1px;font-size:28.00px;">We create partial-tuning curves , measure test error of fine-tuning the last K layers (for</div>
<div class="t" style="left:2478.7px;top:2117.9px;font-size:28.00px;transform:scaleX(1.0209);">different K)</div>
<div class="t" style="left:2478.7px;top:2183.0px;font-size:28.00px;transform:scaleX(0.9897);">Partial-tuning curves plateau (accuracy stops improving when unfreezing more layers)</div>
<div class="t" style="left:2478.7px;top:2218.2px;font-size:28.00px;transform:scaleX(0.9887);">at the same location as the best activation found by InCA</div>
<div class="t" style="left:2448.0px;top:2086.5px;font-size:24.00px;">•</div>
<div class="t" style="left:2448.0px;top:2186.4px;font-size:24.00px;">•</div>
<div class="t" style="left:2431.0px;top:2313.0px;font-size:53.00px;transform:scaleX(0.9003);-webkit-text-stroke:2.2px #fff;">References</div>
<div class="t" style="left:2431.0px;top:2391.8px;font-size:24.00px;transform:scaleX(0.9357);">[1] Perceiver: General Perception with Iterative Attention, Jaegle et al., 2021</div>
<div class="t" style="left:2431.0px;top:2423.2px;font-size:24.00px;transform:scaleX(0.9326);">[2] Visual Prompt Tuning,&nbsp; Jia et al. , 2022</div>
<div class="t" style="left:2431.0px;top:2455.8px;font-size:24.00px;transform:scaleX(0.9215);">[3] LoRA: Low-Rank Adaptation of Large Language Models, Hu et al., 2021</div>
<div class="t" style="left:2431.0px;top:2488.3px;font-size:24.00px;transform:scaleX(0.9343);">[4] BitFit: Simple Parameter-efficient Fine-tuning for Transformer-based Masked Language-models, Ben Zaken</div>
<div class="t" style="left:2431.0px;top:2520.3px;font-size:24.00px;transform:scaleX(0.9178);">et al., 2021</div>
<div class="t" style="left:2431.0px;top:2552.8px;font-size:24.00px;transform:scaleX(0.9460);">[5] End-to-end object detection with Transformers, Carion et al. 2020</div>
</body></html>
